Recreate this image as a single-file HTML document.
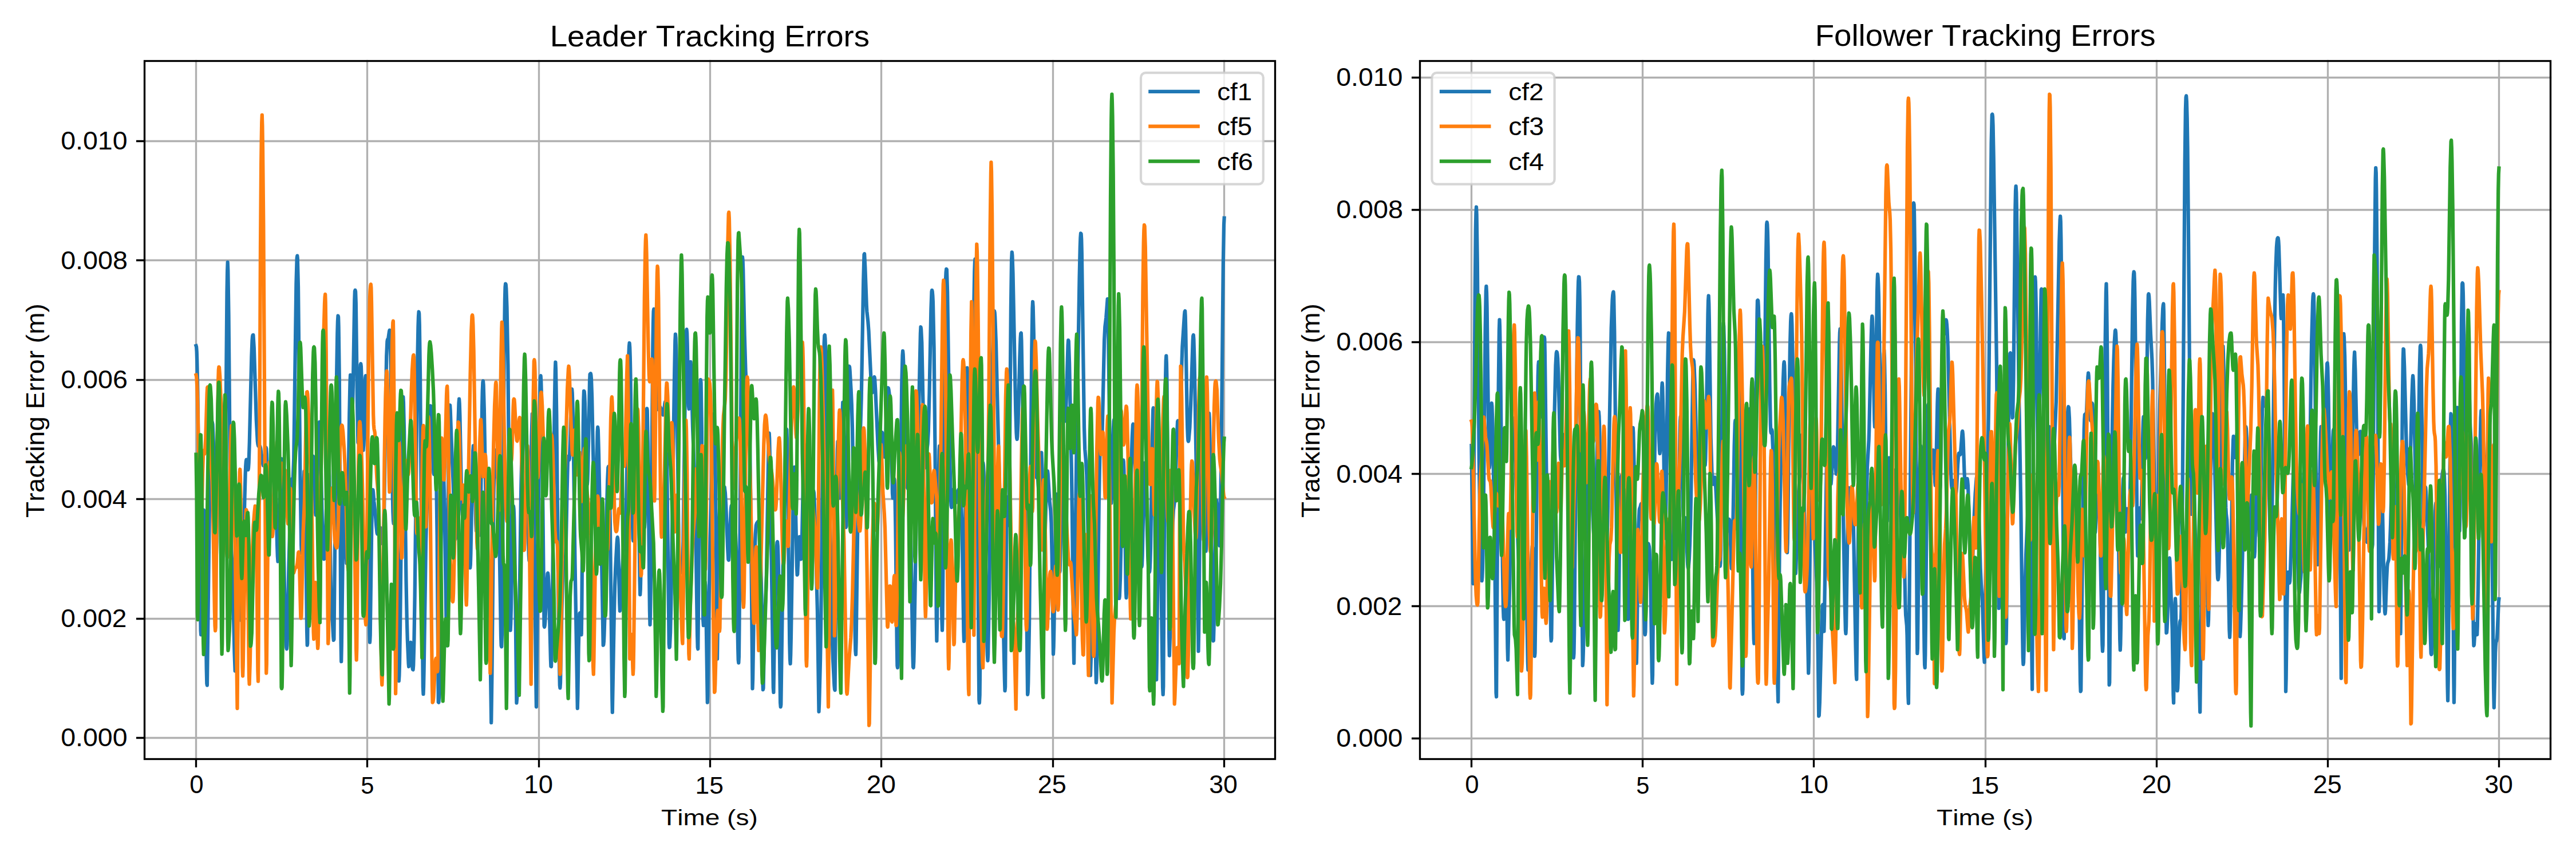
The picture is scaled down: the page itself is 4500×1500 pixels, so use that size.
<!DOCTYPE html>
<html><head><meta charset="utf-8"><title>Tracking Errors</title>
<style>html,body{margin:0;padding:0;background:#fff;width:4500px;height:1500px;overflow:hidden}svg{display:block}text{font-family:"Liberation Sans",sans-serif;fill:#000;font-kerning:none}</style></head><body>
<svg width="4500" height="1500" viewBox="0 0 4500 1500">
<rect width="4500" height="1500" fill="#fff"/>
<defs>
<clipPath id="clipL"><rect x="252.5" y="106.5" width="1975" height="1219"/></clipPath>
<clipPath id="clipR"><rect x="2480.5" y="106.5" width="1975" height="1219"/></clipPath>
</defs>
<path d="M342.5 106.5V1325.5M641.5 106.5V1325.5M941.5 106.5V1325.5M1240.5 106.5V1325.5M1539.5 106.5V1325.5M1839.5 106.5V1325.5M2138.5 106.5V1325.5M252.5 1288.5H2227.5M252.5 1080.5H2227.5M252.5 871.5H2227.5M252.5 663.5H2227.5M252.5 454.5H2227.5M252.5 246.5H2227.5" stroke="#b0b0b0" stroke-width="3.3333" fill="none" stroke-linecap="square"/>
<g clip-path="url(#clipL)" fill="none" stroke-width="6.25" stroke-linejoin="round" stroke-linecap="square">
<path d="M342.5 603.8 343.1 605.7 343.7 613.9 344.2 629.6 345.4 685.1 350.6 1101.2 351.1 1108.3 351.7 1096.6 354.7 916.2 355.3 897.2 355.9 890.5 356.5 896.7 357.7 945.4 360.7 1168.4 361.3 1193.6 361.9 1196.6 365.7 899.5 368.3 786.8 369.6 751.1 370.2 740.9 370.8 737.2 371.5 741.0 372.8 771.1 376.0 932.0 376.6 959.0 377.3 972.9 377.9 968.8 378.5 945.4 381.1 766.5 382.4 702.9 383.0 687.1 383.7 681.0 384.3 682.3 386.9 710.4 388.1 735.3 389.4 789.8 391.3 913.7 392.0 933.5 392.6 919.9 393.3 871.3 396.5 510.3 397.1 474.3 397.7 457.9 398.3 472.4 399.5 550.0 401.9 816.1 403.0 917.2 404.2 962.4 405.4 984.8 406.6 1017.7 409.5 1139.9 410.7 1171.7 411.9 1121.4 414.3 980.6 415.4 944.6 416.0 940.7 416.6 946.2 417.2 959.9 419.6 1051.2 420.8 1081.3 421.4 1083.3 422.0 1081.9 422.6 1074.0 424.4 1016.9 427.4 871.6 428.6 828.2 429.2 814.2 429.8 805.8 430.4 802.6 431.0 803.8 432.8 818.5 433.4 820.3 434.0 817.4 434.6 808.4 435.8 772.5 439.4 623.1 440.5 594.7 441.1 587.3 441.7 585.0 442.4 584.9 443.8 607.2 447.8 733.8 449.8 770.4 450.5 775.8 451.2 778.5 451.8 779.3 453.2 778.7 453.9 778.9 454.5 780.2 455.2 782.9 458.6 807.7 459.9 813.0 460.6 813.0 461.2 810.8 463.9 785.0 464.6 781.3 465.3 783.4 466.0 793.3 466.6 812.0 469.3 917.4 470.0 919.4 470.7 903.4 473.4 791.6 474.0 781.6 474.7 781.8 476.7 810.5 477.4 816.5 478.1 817.6 479.4 814.4 480.1 816.8 480.8 825.8 482.1 865.4 484.1 951.0 484.8 971.3 485.5 980.4 486.1 976.0 486.8 959.4 490.2 821.2 490.8 806.4 491.5 801.0 492.2 805.6 493.5 844.5 496.9 1023.2 498.2 1079.1 499.6 1118.6 500.3 1130.7 500.9 1133.3 501.5 1127.2 502.2 1105.1 504.6 983.2 507.7 872.0 508.9 844.9 509.5 838.3 510.1 836.1 511.3 837.1 511.9 833.6 513.2 801.1 517.4 495.8 518.7 450.4 519.3 446.7 519.8 451.0 521.0 500.9 524.5 838.5 526.2 952.8 526.8 966.1 527.4 966.2 528.0 954.7 530.9 834.1 531.4 823.2 532.0 823.5 532.6 836.2 533.8 898.9 536.1 1102.9 536.7 1126.7 537.2 1123.5 539.5 902.7 540.7 837.8 541.3 828.7 541.8 832.4 543.0 855.8 543.6 862.7 544.2 860.4 546.5 802.2 547.0 796.6 547.6 799.4 548.8 826.8 550.5 883.6 551.1 895.0 551.6 899.4 552.2 896.5 553.4 871.8 556.3 766.3 557.4 740.2 558.0 736.8 558.6 741.2 559.7 772.4 563.2 926.3 564.3 956.8 565.5 973.2 566.0 976.4 566.6 975.8 567.2 971.2 568.4 949.6 572.4 803.0 573.0 790.0 573.5 784.8 574.1 789.3 575.3 831.4 577.6 1004.0 578.7 1066.1 579.3 1078.1 580.5 1083.1 581.0 1088.3 582.2 1111.5 582.8 1117.9 583.4 1116.4 588.1 655.0 589.3 582.4 589.9 561.1 590.5 551.5 591.1 553.4 591.6 570.8 592.8 659.4 595.6 1122.2 596.2 1155.2 596.8 1126.3 599.3 930.3 600.5 869.6 601.1 857.6 601.7 858.3 602.3 870.6 604.8 971.0 605.4 983.6 606.0 981.3 607.2 932.9 610.3 722.7 611.5 666.6 612.1 654.8 612.7 663.0 614.5 716.6 615.1 726.3 615.7 722.5 616.9 671.0 619.3 524.4 619.9 508.6 620.5 506.8 621.1 509.2 621.8 528.9 624.2 711.6 625.4 772.7 626.0 774.1 626.6 757.7 628.5 670.6 629.7 637.1 630.3 635.3 630.9 640.0 631.5 657.9 633.3 753.5 633.9 777.4 634.5 786.2 635.1 777.8 635.7 755.7 637.5 674.3 638.1 660.2 638.7 656.2 639.3 662.2 640.4 697.2 641.6 758.7 645.0 1065.5 645.6 1108.1 646.1 1121.7 646.7 1108.8 649.7 889.2 650.3 867.4 650.9 856.7 651.5 855.3 652.1 860.2 653.3 875.5 655.6 896.5 657.4 919.5 658.6 930.6 659.2 932.4 659.8 932.0 661.6 927.2 664.6 922.3 665.1 922.0 665.7 923.2 666.3 926.6 668.7 949.6 669.3 948.2 669.9 939.1 670.5 920.5 671.1 892.3 674.1 681.8 675.2 621.7 676.4 596.0 677.0 592.8 678.2 591.6 680.0 578.9 680.6 576.6 681.2 578.4 681.8 591.9 682.9 651.6 685.2 832.8 686.4 894.0 687.0 908.6 687.6 914.2 688.1 914.1 689.3 906.4 691.0 890.3 691.6 886.9 692.2 888.0 692.8 896.4 693.4 914.6 694.5 986.5 696.3 1156.5 696.8 1189.0 697.4 1179.9 698.0 1158.8 699.1 1091.3 702.6 774.1 703.8 707.3 704.3 693.2 704.9 702.6 706.1 753.3 709.5 1015.4 710.7 1079.0 711.8 1117.4 713.6 1158.4 714.1 1164.0 714.7 1160.4 716.4 1130.4 717.0 1123.7 717.6 1121.8 718.2 1125.3 718.7 1133.6 720.5 1166.2 721.0 1169.0 721.6 1169.4 722.2 1162.1 723.4 1118.3 724.6 1042.2 729.2 635.9 730.4 570.9 731.0 552.7 731.6 544.5 732.2 547.8 732.8 567.0 734.0 652.2 737.7 1092.2 738.9 1200.1 739.5 1212.0 740.0 1200.0 740.6 1170.9 744.0 947.5 745.1 907.5 747.3 848.5 750.1 741.3 751.2 714.1 751.8 708.7 752.4 708.9 753.5 724.1 756.3 804.2 757.4 825.7 758.0 828.4 758.5 825.3 760.2 798.3 760.8 793.4 761.3 796.5 761.9 810.6 763.6 935.3 765.8 1226.2 766.4 1226.6 767.0 1217.1 769.3 1024.3 771.1 909.7 772.9 841.9 773.5 830.3 774.1 825.0 774.7 826.6 775.3 835.7 776.4 877.6 779.4 1078.9 780.6 1127.5 783.7 796.6 784.3 751.7 784.9 722.5 785.5 708.4 786.1 707.5 786.7 716.7 789.2 786.1 791.7 844.3 794.1 919.7 795.3 941.7 796.0 940.1 796.6 927.8 800.3 741.4 801.5 703.7 802.1 696.7 802.7 705.0 803.4 725.9 805.9 853.3 807.2 890.6 807.8 899.1 808.5 903.5 811.0 911.9 811.6 913.3 812.3 913.0 812.9 910.5 813.5 905.3 815.4 882.0 816.1 877.1 816.7 876.9 817.3 882.8 818.0 895.4 820.5 982.0 821.2 991.6 821.8 986.4 822.4 966.6 825.0 831.2 826.2 787.4 826.9 778.4 827.5 778.7 828.8 805.8 831.3 913.3 832.0 927.1 832.6 926.8 835.1 861.4 835.8 861.2 838.3 934.4 838.9 928.8 839.6 900.0 842.1 711.7 842.7 683.1 843.4 667.8 844.0 665.3 844.6 672.1 845.8 713.3 848.7 875.3 852.9 1049.1 854.0 1080.1 855.2 1096.0 855.8 1109.0 856.4 1131.5 858.2 1261.9 859.4 1178.3 862.4 865.1 863.0 825.6 863.6 799.8 864.2 787.3 864.8 786.1 865.4 793.1 867.2 824.3 867.8 829.4 869.0 833.4 869.6 837.8 870.8 864.5 872.0 922.0 875.0 1109.9 875.6 1127.3 876.2 1129.4 876.9 1107.6 877.5 1044.1 880.6 619.3 881.9 523.4 882.5 501.2 883.1 495.6 883.7 496.7 884.3 503.8 885.5 536.2 887.4 637.4 891.6 1100.6 892.2 1089.2 892.8 1064.1 895.8 904.1 896.4 889.1 897.0 883.9 897.6 889.2 898.2 905.2 899.4 968.3 902.4 1227.4 903.5 1214.8 904.7 1207.3 905.3 1195.8 905.9 1171.3 910.1 860.2 911.3 801.5 912.5 766.7 913.7 748.0 914.9 736.0 916.1 727.7 916.7 726.4 917.3 728.6 917.8 735.5 919.6 788.1 923.2 951.4 923.8 969.7 924.4 978.8 925.0 974.7 925.6 955.5 928.6 760.7 929.8 722.6 930.4 722.6 931.0 735.7 932.2 798.6 935.7 1149.1 936.9 1234.3 942.2 748.8 943.4 678.3 944.0 660.0 944.6 656.2 945.2 665.7 945.8 686.5 947.0 758.9 950.5 1092.7 951.1 1094.9 951.7 1092.1 952.3 1085.1 955.3 1016.6 956.5 1001.5 957.1 1000.7 957.7 1005.3 958.9 1031.6 961.9 1151.1 962.4 1163.6 963.0 1164.0 963.7 1141.3 964.9 1050.1 968.6 715.5 969.8 646.8 970.4 632.5 971.0 645.7 972.3 723.5 975.3 1038.0 976.6 1136.5 977.8 1196.8 978.4 1201.3 979.0 1192.2 981.4 1064.7 983.3 999.0 983.9 988.1 984.5 982.7 985.1 982.2 986.9 992.2 987.5 988.8 988.7 954.1 990.6 856.3 991.8 808.4 992.4 798.3 993.0 796.7 994.2 803.2 994.8 800.8 996.0 769.8 997.8 697.7 998.4 684.0 999.1 679.3 999.7 685.9 1000.3 702.4 1001.5 763.2 1004.5 982.1 1008.8 1237.0 1009.4 1213.9 1010.6 1132.5 1011.9 1081.2 1012.5 1070.9 1013.2 1070.2 1015.7 1108.3 1016.3 1068.1 1018.8 739.2 1019.4 698.6 1020.0 682.8 1020.6 683.4 1021.2 690.0 1021.8 703.1 1024.7 823.9 1025.3 840.0 1025.9 845.7 1026.5 839.0 1027.1 820.2 1030.0 666.8 1030.6 653.4 1031.8 652.2 1032.4 655.0 1033.0 662.2 1034.1 693.4 1037.7 867.3 1038.9 903.3 1039.5 907.8 1040.1 901.8 1040.7 885.4 1043.6 754.0 1044.2 745.9 1044.8 750.3 1046.0 794.0 1048.4 919.5 1050.7 970.8 1051.3 993.2 1053.7 1126.7 1054.3 1125.8 1054.9 1120.0 1055.4 1109.3 1056.6 1072.7 1060.0 886.7 1061.2 839.7 1062.3 816.5 1062.9 814.7 1063.5 819.5 1064.6 849.9 1065.8 909.7 1069.3 1219.6 1069.8 1243.9 1072.8 1075.6 1074.0 1023.9 1075.2 992.8 1077.5 949.9 1078.1 941.7 1078.7 938.2 1079.3 941.5 1079.9 952.9 1082.3 1053.7 1082.9 1066.8 1083.5 1064.3 1084.1 1054.2 1090.1 937.5 1090.7 930.9 1092.5 920.6 1093.1 913.1 1094.2 875.1 1094.8 842.6 1097.8 644.0 1098.4 619.6 1099.0 604.6 1099.6 599.0 1100.2 606.4 1100.8 624.6 1101.4 654.0 1104.4 888.3 1105.6 940.4 1106.2 944.4 1106.8 937.3 1108.6 899.6 1111.0 868.1 1113.4 810.0 1114.0 807.2 1114.6 816.6 1115.2 839.6 1117.6 1015.0 1118.2 1038.4 1118.8 1028.7 1119.4 1000.8 1121.2 877.0 1122.4 828.0 1123.0 824.7 1123.6 835.7 1125.4 910.0 1126.0 920.9 1126.6 911.4 1127.2 882.1 1129.6 726.9 1130.2 713.4 1130.7 716.8 1131.9 775.2 1134.3 1017.2 1134.9 1066.9 1135.5 1091.0 1136.1 1073.6 1136.7 1024.8 1140.4 602.6 1141.0 564.7 1141.6 543.7 1142.2 539.6 1142.8 543.5 1143.5 555.3 1146.5 671.5 1147.8 704.0 1148.4 711.9 1149.0 715.1 1149.6 715.1 1151.5 710.5 1152.1 709.9 1152.7 710.1 1153.3 710.7 1155.2 714.6 1157.6 723.5 1158.2 724.6 1158.9 724.1 1159.5 721.4 1161.3 705.0 1161.9 702.0 1162.5 704.1 1163.2 713.9 1163.8 733.1 1165.0 802.4 1168.7 1124.7 1169.3 1130.6 1169.9 1129.9 1171.1 1104.4 1172.3 1051.1 1178.2 651.8 1179.3 595.5 1179.9 583.6 1180.5 589.8 1181.8 637.4 1186.0 965.2 1186.7 987.0 1187.3 995.0 1187.9 993.3 1189.1 985.2 1189.7 986.3 1190.9 997.4 1191.5 999.9 1192.2 993.6 1192.8 975.1 1193.4 944.2 1197.7 624.1 1198.9 579.2 1199.5 575.2 1200.1 581.1 1200.7 600.1 1203.0 709.6 1203.6 714.2 1204.1 703.9 1205.9 640.6 1206.5 631.8 1207.1 639.0 1207.6 654.5 1210.0 746.0 1212.9 821.5 1214.0 861.3 1215.2 918.5 1218.1 1108.8 1218.7 1130.4 1219.3 1133.3 1219.8 1083.2 1222.2 747.5 1223.4 669.0 1223.9 663.2 1224.6 668.2 1225.8 746.0 1228.2 1082.7 1228.9 1092.2 1229.4 1081.5 1231.2 1021.8 1231.7 1016.0 1232.3 1022.4 1233.5 1070.9 1235.8 1226.6 1236.4 1214.7 1238.7 1042.2 1240.5 940.5 1245.3 757.6 1246.5 728.1 1247.1 723.0 1247.7 726.8 1248.3 741.0 1249.5 804.0 1252.5 1112.2 1253.0 1150.6 1256.1 927.6 1257.3 879.4 1257.9 869.6 1258.5 867.3 1259.1 870.0 1260.9 886.0 1261.5 887.3 1262.1 884.8 1262.7 878.8 1264.5 855.1 1265.1 850.9 1265.7 850.5 1266.9 860.8 1268.1 881.7 1271.1 956.3 1272.3 977.0 1272.9 978.1 1273.5 972.2 1276.5 896.3 1277.1 887.1 1277.7 882.9 1278.3 883.5 1278.9 888.0 1281.3 915.7 1281.9 918.5 1282.5 919.4 1283.1 919.4 1283.7 920.1 1284.3 923.2 1284.9 930.3 1286.1 961.9 1286.7 987.8 1289.1 1129.6 1289.7 1152.4 1290.3 1157.5 1290.9 1146.3 1291.5 1090.6 1295.2 562.2 1296.4 465.6 1297.0 448.8 1297.6 454.5 1298.2 471.2 1300.7 585.7 1302.5 646.8 1305.5 704.2 1306.7 720.1 1308.5 736.7 1309.7 765.2 1311.5 879.8 1314.5 1202.4 1315.1 1185.3 1318.0 998.1 1319.1 947.7 1319.7 932.5 1320.8 917.5 1322.0 913.6 1324.3 910.6 1324.9 910.3 1325.5 910.7 1326.0 912.4 1326.6 915.7 1327.8 931.6 1328.3 946.1 1330.1 1027.0 1332.4 1191.5 1332.9 1204.3 1333.5 1201.8 1335.9 1077.7 1338.3 1024.5 1338.9 1005.1 1342.5 780.1 1343.1 761.1 1343.7 756.3 1344.2 766.2 1345.4 823.4 1350.8 1201.3 1351.4 1208.9 1353.2 1085.0 1355.1 1001.9 1356.9 955.0 1357.5 947.4 1358.1 946.1 1358.8 953.1 1359.4 970.0 1360.0 997.5 1363.1 1227.1 1363.7 1234.3 1364.3 1230.2 1368.1 963.3 1372.4 783.2 1373.7 749.1 1374.3 750.1 1374.9 766.1 1375.6 797.2 1379.3 1123.3 1380.0 1151.1 1380.6 1159.0 1381.2 1143.9 1381.9 1112.3 1385.9 857.7 1387.2 817.7 1387.9 815.6 1388.6 826.3 1391.9 988.4 1392.6 1003.8 1393.2 1002.6 1395.9 940.3 1396.6 937.4 1397.2 943.1 1399.2 976.5 1399.9 974.1 1401.2 928.6 1403.9 798.1 1404.5 782.6 1405.2 776.7 1405.9 779.7 1406.5 789.9 1409.9 879.5 1411.2 900.5 1411.9 903.4 1412.5 902.0 1414.5 888.8 1415.2 886.9 1415.9 886.7 1416.5 887.2 1417.2 887.0 1417.9 884.6 1420.5 858.9 1421.2 857.1 1421.9 860.9 1422.5 870.9 1424.5 932.1 1427.9 1066.4 1430.5 1242.7 1431.1 1228.4 1433.0 1153.8 1434.2 1082.2 1438.5 662.0 1439.1 623.7 1439.7 598.5 1440.3 586.1 1440.9 585.0 1441.5 591.8 1442.1 611.3 1445.0 825.2 1446.2 883.9 1446.8 893.7 1447.4 893.7 1448.6 887.5 1449.1 891.2 1449.7 903.3 1450.9 953.4 1453.9 1119.0 1455.0 1151.2 1457.4 1197.1 1458.0 1203.8 1458.6 1205.1 1461.7 863.1 1462.9 784.8 1463.5 771.1 1464.2 773.2 1466.7 858.3 1467.3 869.5 1467.9 866.6 1468.5 849.8 1471.0 731.9 1472.3 702.5 1472.9 702.5 1473.5 712.6 1474.8 760.3 1477.3 903.2 1477.9 920.8 1478.5 918.2 1479.8 855.3 1482.3 676.7 1482.9 651.4 1483.5 639.5 1484.1 640.8 1484.7 647.4 1486.6 679.8 1487.8 706.6 1489.0 747.4 1490.8 858.9 1493.8 1111.8 1494.4 1136.8 1495.0 1142.9 1495.6 1120.9 1498.0 938.2 1499.9 838.3 1501.1 796.2 1503.5 736.8 1504.7 696.2 1508.3 489.1 1509.5 444.6 1510.1 443.2 1511.3 466.5 1513.8 534.3 1514.4 544.0 1516.3 561.5 1517.5 577.4 1521.9 670.7 1523.1 684.4 1523.8 685.6 1524.4 683.1 1526.9 660.3 1527.5 658.3 1528.1 661.6 1529.3 680.8 1533.6 776.5 1535.4 804.7 1536.0 807.6 1536.6 806.1 1537.9 791.7 1539.7 761.6 1540.3 756.2 1540.9 755.1 1541.5 758.6 1542.1 765.7 1544.0 793.1 1544.6 797.9 1545.2 798.0 1546.4 782.7 1549.4 699.9 1550.6 680.1 1551.3 677.2 1551.9 677.9 1552.5 680.2 1554.3 694.1 1555.5 716.3 1556.1 734.6 1559.0 861.8 1559.6 869.6 1560.2 866.1 1562.0 835.8 1562.6 838.4 1563.2 853.2 1564.4 920.4 1566.8 1127.9 1567.4 1162.4 1568.0 1165.9 1568.6 1162.0 1569.2 1142.0 1570.5 1068.3 1575.3 669.0 1576.5 621.0 1577.1 612.9 1577.7 619.1 1578.3 634.3 1581.3 767.0 1583.1 826.0 1583.7 837.6 1584.9 850.6 1585.5 852.8 1586.1 853.2 1586.7 852.7 1587.3 852.7 1587.9 854.7 1588.5 859.8 1589.7 884.2 1591.5 962.1 1594.5 1145.0 1595.1 1164.9 1595.7 1165.9 1596.3 1155.2 1596.9 1129.1 1601.2 863.6 1604.2 753.0 1607.9 582.4 1608.5 571.0 1609.1 574.6 1610.3 598.1 1614.3 794.8 1614.9 809.9 1615.4 816.8 1616.0 816.7 1618.3 793.4 1620.6 775.1 1621.8 752.8 1623.5 686.3 1626.4 540.1 1627.5 509.5 1628.1 506.8 1628.7 509.1 1629.3 515.7 1629.9 527.5 1631.6 606.7 1633.4 775.3 1635.8 1084.0 1636.4 1119.1 1637.0 1087.7 1639.4 853.2 1640.6 786.2 1641.2 778.8 1641.8 790.0 1642.4 818.8 1644.8 1038.0 1645.4 1083.6 1646.0 1100.6 1646.6 1075.0 1647.2 1010.2 1650.2 603.9 1651.4 513.3 1652.0 488.7 1652.6 475.0 1653.2 469.8 1653.9 470.7 1655.1 509.7 1659.6 815.2 1660.9 870.8 1661.6 883.0 1662.2 886.0 1662.9 882.7 1665.4 857.2 1666.1 854.4 1666.7 853.7 1667.3 855.0 1668.0 858.2 1669.9 874.2 1670.6 877.3 1671.2 877.2 1671.8 873.8 1673.8 857.1 1674.4 855.0 1675.1 855.5 1677.6 866.9 1678.9 876.8 1680.2 907.4 1680.8 935.4 1683.4 1103.3 1684.0 1119.8 1684.7 1114.4 1687.7 732.3 1688.9 651.8 1689.5 642.3 1690.1 651.1 1690.7 671.3 1694.2 908.1 1695.4 953.6 1695.9 952.9 1696.5 935.4 1697.7 860.5 1701.2 539.8 1702.3 474.4 1702.9 458.1 1703.5 452.3 1704.1 463.4 1704.7 493.1 1706.0 605.2 1709.7 1162.0 1710.3 1221.9 1710.9 1227.4 1711.6 1213.5 1714.7 899.1 1716.0 830.7 1716.6 814.1 1717.3 808.3 1717.9 812.5 1718.5 825.2 1719.8 872.5 1724.3 1124.3 1724.9 1144.4 1725.5 1153.6 1726.1 1142.6 1727.9 1043.0 1733.4 652.2 1735.2 569.1 1736.4 543.9 1737.0 543.1 1737.6 545.3 1738.2 553.1 1740.0 600.5 1745.4 825.4 1753.1 1104.5 1754.9 1187.4 1755.5 1206.2 1756.1 1199.5 1757.3 1024.5 1758.6 904.8 1759.2 876.0 1759.8 867.8 1760.4 876.8 1761.6 914.5 1762.2 917.4 1762.9 892.7 1765.9 538.1 1767.1 453.0 1767.8 440.4 1768.4 446.1 1769.5 476.9 1774.3 717.6 1775.5 755.8 1776.1 764.8 1776.7 767.1 1777.3 762.7 1778.5 737.1 1781.4 623.7 1782.6 590.2 1783.2 582.2 1783.8 581.5 1784.4 594.5 1787.6 769.7 1788.2 794.6 1790.7 846.8 1791.3 874.9 1795.1 1212.8 1795.7 1208.9 1796.3 1191.6 1798.1 1088.9 1802.3 613.0 1803.5 538.6 1804.1 527.0 1804.7 535.7 1805.8 581.8 1808.8 771.8 1810.0 821.3 1810.6 831.5 1811.1 834.2 1812.3 832.4 1812.9 834.9 1814.7 860.5 1815.3 865.5 1815.9 862.9 1818.2 799.7 1818.8 790.4 1819.4 790.3 1820.6 819.5 1822.9 933.7 1823.5 953.2 1824.1 962.3 1824.7 960.0 1825.3 947.6 1828.2 841.7 1829.4 823.3 1830.0 822.5 1830.6 826.6 1833.5 875.2 1835.3 891.7 1836.5 913.4 1837.6 968.0 1840.0 1142.1 1840.6 1129.7 1841.2 1101.1 1844.3 909.2 1845.5 869.3 1846.1 862.8 1846.7 865.4 1847.3 876.3 1850.4 988.5 1851.0 999.2 1851.6 996.7 1852.8 950.9 1855.2 795.9 1856.5 742.6 1857.1 728.2 1857.7 721.7 1858.3 721.6 1860.1 735.3 1860.7 735.3 1861.4 729.9 1862.6 701.9 1865.6 602.4 1866.2 594.1 1866.8 595.8 1868.1 634.7 1871.8 817.6 1873.0 901.4 1875.5 1129.7 1876.1 1158.2 1880.3 802.1 1885.6 484.1 1886.8 431.3 1887.4 415.3 1888.0 407.5 1888.6 408.3 1889.2 417.4 1889.8 441.8 1894.0 746.3 1895.2 784.2 1897.0 806.1 1898.3 829.0 1899.5 871.3 1901.9 994.5 1904.9 1179.4 1906.1 1142.4 1909.0 976.4 1910.2 940.3 1910.8 939.1 1911.4 951.0 1912.0 976.5 1914.3 1166.8 1914.9 1192.0 1915.5 1184.0 1916.8 1128.3 1919.8 875.8 1921.1 804.6 1921.7 784.5 1922.3 774.5 1922.9 772.5 1924.2 776.6 1924.8 772.9 1925.4 760.2 1929.1 594.0 1930.3 570.8 1932.2 555.0 1934.7 522.1 1935.3 534.3 1935.9 563.0 1938.9 793.7 1940.1 856.9 1940.7 873.8 1941.3 878.7 1941.9 870.6 1945.0 747.6 1945.6 735.2 1946.2 732.7 1946.8 739.9 1947.4 755.8 1950.4 893.2 1952.2 961.3 1954.0 1021.6 1954.6 1037.3 1955.2 1044.9 1955.8 1041.0 1957.0 1010.1 1960.5 848.0 1961.7 810.1 1962.3 803.3 1962.8 806.1 1963.4 819.4 1964.6 876.6 1966.4 1002.5 1966.9 1032.4 1967.5 1043.8 1968.7 1022.1 1971.7 917.9 1974.7 865.2 1975.3 849.7 1977.7 764.9 1978.9 742.0 1979.5 740.6 1980.7 756.2 1983.1 817.9 1984.9 848.4 1985.5 852.7 1986.1 854.8 1986.7 855.3 1988.5 853.0 1989.1 853.1 1989.7 855.6 1990.3 862.0 1991.4 890.2 1993.8 980.4 1994.4 990.0 1995.0 986.5 1995.6 970.2 1998.6 831.6 1999.2 816.0 1999.8 808.4 2000.4 808.8 2001.6 832.1 2005.2 971.5 2006.4 992.9 2007.0 997.5 2007.6 999.3 2008.2 998.0 2008.8 992.1 2009.4 979.0 2010.0 956.7 2013.0 762.2 2014.2 715.4 2014.8 712.2 2015.4 724.9 2016.6 798.3 2019.6 1146.6 2020.2 1187.0 2020.8 1151.5 2023.2 916.6 2024.4 849.7 2025.0 839.3 2025.6 844.6 2026.8 895.5 2030.5 1165.3 2031.1 1200.6 2031.7 1212.8 2032.3 1198.3 2034.8 779.2 2036.1 658.7 2036.7 630.0 2037.3 621.3 2037.9 634.7 2038.6 670.8 2041.6 1046.1 2042.2 1112.8 2042.8 1144.8 2044.0 1109.6 2047.0 970.9 2048.8 911.9 2049.9 890.7 2052.3 873.2 2052.9 863.6 2055.9 760.6 2057.1 736.1 2057.7 734.8 2058.3 740.5 2060.1 772.1 2060.6 774.7 2061.2 767.9 2062.4 726.6 2064.2 642.8 2065.4 605.7 2069.0 550.2 2069.6 544.3 2070.2 543.1 2070.7 552.3 2071.3 576.8 2073.7 723.2 2074.3 747.4 2074.9 762.4 2075.4 769.4 2076.0 770.6 2076.6 767.9 2078.4 746.7 2080.1 706.3 2083.7 595.1 2084.2 586.8 2084.8 585.0 2085.4 592.6 2086.6 635.3 2090.0 830.5 2093.5 1137.1 2094.1 1103.9 2096.5 871.8 2097.7 795.0 2098.3 773.6 2098.9 762.5 2099.5 759.7 2100.1 762.9 2101.9 792.5 2103.1 829.3 2105.5 939.3 2106.1 957.5 2106.7 962.4 2107.3 951.2 2107.9 925.2 2110.9 742.3 2111.5 725.6 2112.1 721.6 2112.7 730.8 2113.9 785.4 2116.9 1021.9 2118.1 1093.1 2118.7 1112.0 2119.3 1119.1 2119.9 1118.7 2120.5 1097.9 2122.9 937.9 2124.1 887.2 2124.7 876.0 2125.3 873.5 2125.9 878.3 2129.5 949.4 2130.1 952.8 2130.7 948.8 2131.3 934.8 2133.2 820.7 2136.8 461.4 2138.0 392.4 2138.6 380.8" stroke="#1f77b4"/>
<path d="M342.5 654.9 343.1 657.2 343.7 663.7 344.3 675.3 345.5 715.5 349.1 924.0 350.3 962.3 350.9 961.2 351.5 946.1 353.9 827.2 355.1 792.0 355.7 786.6 356.2 787.1 357.4 792.7 358.0 790.7 359.2 767.4 361.6 686.9 362.2 676.7 362.8 675.8 363.4 681.6 367.0 794.2 367.7 805.0 369.5 820.4 370.7 842.2 371.9 889.7 374.9 1068.8 375.5 1092.8 376.1 1101.4 376.7 1095.9 377.2 1056.3 380.1 742.1 381.2 664.7 381.8 645.9 382.4 640.9 383.0 641.6 384.2 657.2 390.1 811.8 394.3 936.8 395.5 959.9 396.7 972.0 397.3 973.3 397.8 970.7 399.0 950.3 400.2 907.0 403.2 767.3 403.8 751.4 404.4 743.4 405.0 743.9 405.6 752.5 406.8 788.7 410.9 966.9 414.5 1237.0 417.5 887.8 418.7 824.3 419.3 819.5 419.9 833.1 420.5 864.2 423.5 1164.7 424.1 1180.5 424.7 1162.6 428.4 942.5 429.6 899.1 430.2 890.1 430.8 892.3 431.4 906.8 432.0 934.2 435.0 1183.0 435.6 1194.7 436.8 1157.1 439.2 1032.4 441.0 957.2 442.7 916.7 444.5 893.9 445.7 883.6 446.3 885.4 446.9 896.0 447.5 917.8 448.6 998.7 450.4 1171.9 451.0 1189.7 451.6 1121.1 455.0 433.1 456.1 289.2 456.7 243.4 457.2 214.5 457.8 200.9 458.4 219.9 459.0 259.5 460.3 391.5 464.6 1116.3 465.2 1175.5 465.8 1159.3 468.7 868.2 469.3 834.8 469.9 814.7 470.5 807.3 471.0 811.1 471.6 823.7 474.6 924.9 475.1 934.4 475.7 936.9 476.3 933.2 476.9 924.8 479.8 867.3 482.7 792.2 483.9 771.5 484.5 770.8 485.1 777.5 487.4 843.1 488.0 853.9 488.6 857.2 489.1 853.2 491.5 813.0 492.1 809.0 492.6 809.2 493.2 812.6 495.0 826.4 495.6 827.5 496.1 826.4 497.3 821.5 497.9 820.8 498.5 823.1 499.6 839.4 502.0 900.3 502.6 910.6 503.1 914.7 503.7 912.1 504.3 903.4 506.1 864.1 506.6 855.6 507.2 853.0 507.8 857.7 508.4 869.6 510.7 960.7 511.9 992.8 512.5 999.0 513.1 1000.4 515.4 992.9 516.6 991.1 517.7 990.6 518.3 989.8 519.5 983.4 521.2 964.9 521.8 964.1 522.4 970.2 523.0 984.4 525.3 1077.6 525.9 1079.5 526.5 1075.9 527.1 1051.4 529.5 931.1 531.9 877.5 534.9 716.9 536.1 684.4 536.7 684.2 537.3 687.8 537.9 697.5 544.0 857.3 545.2 917.9 547.6 1103.5 548.2 1116.0 550.1 1039.0 550.7 1022.4 551.3 1017.2 552.0 1023.4 552.6 1040.0 554.5 1119.2 555.1 1132.1 555.7 1126.3 556.3 1092.6 558.1 948.9 559.3 877.5 562.2 768.9 565.8 571.8 567.0 529.7 567.6 518.5 568.2 513.8 568.7 527.7 569.8 618.6 572.6 1070.3 573.2 1123.7 573.8 1114.2 576.4 940.0 577.1 907.8 578.4 866.1 579.0 855.9 579.7 852.3 580.3 855.0 581.6 876.0 583.6 923.2 584.9 943.8 585.5 948.8 586.8 953.9 588.1 956.7 588.8 955.1 589.5 948.6 590.1 935.3 590.8 914.9 594.0 785.3 595.3 757.2 596.0 749.2 596.6 744.4 597.3 742.6 597.9 743.8 599.2 754.4 601.2 784.1 602.5 810.0 604.4 869.3 607.1 974.7 607.7 990.5 608.4 995.6 609.0 988.4 609.7 969.9 613.6 790.3 614.9 762.0 615.5 760.1 616.2 766.9 616.8 782.6 618.1 839.3 622.1 1133.5 622.7 1152.5 623.3 1131.7 626.2 806.8 626.8 770.8 627.4 748.5 628.0 737.9 628.6 736.5 629.2 741.7 631.6 792.0 633.3 854.5 637.5 1051.8 638.6 1086.0 639.2 1091.0 639.8 1082.8 642.9 725.2 644.1 618.0 645.9 523.8 646.5 508.3 647.2 499.4 647.8 496.3 648.4 502.6 649.0 526.8 652.2 724.3 652.8 741.2 653.4 748.6 654.7 754.7 655.3 762.1 657.8 825.0 658.5 837.0 660.3 857.4 661.6 885.4 662.9 941.8 666.0 1152.2 666.6 1182.7 667.3 1195.9 667.9 1181.3 671.5 802.6 672.7 726.7 673.9 678.0 675.1 652.5 675.7 647.8 676.3 653.0 677.5 696.7 679.8 841.5 680.4 859.1 681.0 858.1 682.2 803.0 685.1 597.9 686.3 563.4 686.9 560.5 687.4 588.7 688.5 717.8 691.1 1211.2 691.7 1177.0 694.8 862.3 696.0 789.9 696.6 774.1 697.2 772.8 697.9 785.4 700.9 957.2 701.6 974.5 702.2 973.8 705.2 852.9 706.5 821.6 707.7 807.1 708.3 804.5 708.9 804.3 710.2 809.5 712.6 828.0 713.3 828.6 713.9 825.0 715.1 803.0 718.8 679.3 720.0 647.2 721.3 626.5 721.9 621.2 722.5 619.9 723.1 625.3 723.7 648.0 727.4 912.8 728.0 929.1 728.6 931.7 730.5 907.4 731.1 904.3 731.7 908.1 734.1 968.4 734.8 971.4 735.4 957.9 736.0 927.9 737.8 799.1 739.1 747.0 739.7 743.1 740.3 755.2 742.7 894.9 743.3 917.7 744.0 919.8 744.6 900.7 747.0 756.6 747.6 736.0 748.3 727.7 748.9 732.0 750.1 774.5 751.3 852.3 755.0 1198.7 755.6 1226.6 756.2 1226.2 756.8 1223.3 757.4 1217.3 759.8 1169.4 761.0 1151.7 761.7 1149.7 762.3 1152.7 763.5 1168.7 764.1 1172.8 764.7 1168.2 768.8 864.3 770.5 778.3 771.1 767.0 771.7 764.9 772.3 770.9 774.7 829.7 775.3 837.8 775.9 837.9 777.0 812.9 780.0 690.9 780.6 677.9 781.2 674.4 781.7 685.4 782.9 743.6 785.8 953.4 786.3 974.1 786.9 985.1 788.1 996.0 788.6 1004.9 790.4 1049.5 791.0 1050.7 791.5 1047.5 792.1 1035.9 797.5 811.1 799.3 754.9 800.5 737.1 801.1 738.0 802.3 762.2 804.1 833.5 805.2 866.8 805.8 871.0 806.4 867.7 808.2 847.1 808.8 847.1 809.4 853.3 810.0 865.8 811.2 907.6 813.6 1024.1 814.2 1046.1 814.8 1056.4 815.4 1039.8 818.4 828.3 821.5 655.6 823.3 577.4 824.5 552.1 825.2 550.1 825.8 555.0 826.4 567.6 827.6 613.1 832.0 890.1 833.2 947.3 833.9 958.0 834.5 954.3 835.1 937.2 838.2 770.8 839.5 734.3 840.1 732.6 840.7 741.9 842.6 805.6 843.2 823.3 843.8 832.3 844.4 832.1 846.9 796.3 847.5 793.7 848.2 796.4 849.4 816.2 851.3 878.7 856.3 1175.5 856.9 1161.5 857.4 1122.4 861.0 838.4 862.2 776.2 864.0 709.4 865.8 671.1 866.4 667.4 866.9 672.2 868.1 728.0 869.9 854.3 870.4 881.6 871.0 891.5 871.6 882.4 872.2 856.6 875.1 634.2 876.3 574.7 876.8 562.6 877.4 571.7 878.6 619.9 880.9 762.7 882.7 847.6 883.8 884.2 885.0 905.4 885.6 910.2 886.1 910.9 886.7 907.1 887.3 898.8 890.8 811.0 891.4 805.5 892.0 804.3 892.6 805.4 893.1 805.7 893.7 802.0 894.3 791.9 896.6 710.8 897.2 698.7 897.8 696.7 898.4 697.6 899.0 704.3 901.5 754.5 902.8 769.2 903.4 770.2 904.0 767.2 907.1 731.7 907.8 729.1 908.4 730.3 909.0 735.8 909.6 746.1 910.9 781.7 914.0 925.9 915.2 961.0 915.9 960.4 916.5 946.4 919.6 803.6 920.2 786.5 920.8 778.1 921.5 778.6 922.7 806.3 924.0 867.9 927.7 1194.7 931.5 698.3 932.8 630.5 933.4 628.3 934.0 633.0 934.6 647.8 937.6 790.7 938.8 828.6 939.4 834.5 940.0 831.0 940.6 819.3 944.2 698.3 944.8 688.6 945.4 685.1 946.0 687.6 947.2 708.7 950.8 820.1 952.0 842.2 952.6 845.2 953.2 842.4 953.8 834.7 957.4 757.2 958.6 743.3 959.2 742.0 959.8 744.1 961.6 757.3 962.2 759.1 963.4 759.5 964.0 761.5 964.6 767.2 965.8 794.4 969.4 926.2 970.6 943.9 971.2 946.2 971.8 945.9 972.4 945.0 973.0 946.0 973.6 951.3 974.2 963.3 975.4 1011.9 977.8 1162.4 978.4 1177.4 979.0 1173.3 979.6 1141.7 982.0 964.2 983.8 876.3 984.4 860.4 986.8 826.1 987.4 812.1 991.1 678.9 992.9 644.0 993.5 639.5 994.1 644.0 994.8 656.6 998.1 756.6 999.4 786.7 1000.0 794.0 1000.7 794.5 1001.3 788.6 1003.3 756.3 1004.0 751.0 1004.6 752.1 1005.3 759.9 1007.9 821.9 1008.6 829.2 1009.2 828.7 1011.2 798.5 1011.9 791.0 1012.5 789.9 1013.2 796.4 1013.8 810.0 1015.8 866.3 1016.4 875.6 1017.1 874.0 1017.8 861.4 1019.7 799.5 1020.4 786.9 1021.0 782.9 1021.7 788.0 1022.4 799.9 1023.7 831.9 1025.0 855.3 1027.6 876.8 1030.9 909.9 1032.2 934.3 1033.5 988.5 1036.1 1163.5 1036.8 1177.4 1037.4 1152.8 1040.5 948.7 1041.7 899.4 1043.0 872.9 1043.6 867.3 1044.2 866.4 1044.8 870.1 1047.9 928.1 1048.5 934.7 1049.1 936.3 1049.8 933.8 1051.0 924.7 1051.6 922.3 1052.2 923.3 1053.5 935.5 1055.3 961.8 1055.9 965.9 1056.5 966.1 1058.4 955.9 1059.0 954.5 1059.6 955.5 1060.9 960.4 1061.5 959.9 1062.1 953.8 1062.7 940.4 1063.3 919.1 1067.0 730.4 1068.3 696.6 1068.9 693.2 1069.5 702.1 1070.1 720.4 1073.5 896.5 1074.1 911.2 1075.3 924.7 1075.8 927.1 1076.4 928.2 1077.0 928.0 1077.6 925.9 1078.7 914.6 1080.5 891.6 1081.1 888.3 1081.6 888.6 1082.8 894.7 1083.4 895.7 1084.0 891.8 1087.4 803.9 1088.0 799.3 1088.6 800.1 1090.3 814.1 1090.9 813.4 1091.5 806.1 1092.7 769.3 1095.0 654.1 1096.1 621.3 1097.3 691.1 1097.9 759.6 1100.2 1150.6 1100.8 1150.4 1102.5 1113.8 1103.1 1107.9 1103.6 1111.5 1104.2 1125.0 1105.4 1166.6 1105.9 1177.4 1106.5 1166.6 1107.1 1128.7 1110.8 809.0 1112.0 749.0 1113.2 718.7 1113.8 714.2 1114.4 717.1 1115.6 748.3 1119.2 986.2 1119.8 1005.5 1120.4 1002.8 1121.0 978.5 1122.2 884.1 1125.8 520.3 1127.1 443.0 1127.7 420.8 1128.3 410.4 1128.9 421.1 1129.5 442.7 1132.6 611.3 1133.8 654.1 1134.4 664.0 1135.0 666.6 1135.7 663.0 1137.5 634.6 1138.1 628.0 1138.7 626.9 1139.3 628.0 1139.9 645.4 1142.2 829.9 1142.8 866.3 1143.3 874.6 1143.9 849.6 1144.5 798.0 1146.8 545.8 1147.9 477.4 1148.5 464.9 1149.1 468.8 1150.3 519.8 1153.9 863.8 1155.1 930.4 1155.7 937.8 1156.2 932.4 1159.8 860.3 1161.0 815.3 1163.4 695.8 1164.0 677.4 1164.6 668.8 1165.2 669.4 1166.4 691.5 1168.2 756.0 1169.4 786.7 1170.0 790.6 1170.6 786.5 1173.0 741.2 1173.6 738.1 1174.2 743.0 1175.4 778.9 1177.3 875.8 1178.5 923.2 1179.1 928.7 1179.7 921.9 1181.5 875.5 1182.1 866.4 1182.7 864.5 1183.3 870.0 1184.5 898.8 1186.9 979.8 1191.2 1102.1 1191.8 1117.9 1192.4 1123.7 1193.6 1051.0 1196.6 781.7 1197.8 735.1 1198.4 733.9 1199.0 748.6 1200.3 824.4 1202.7 1090.6 1203.3 1141.3 1203.9 1150.6 1206.2 1047.0 1208.0 992.3 1210.3 940.1 1213.2 903.1 1215.5 838.1 1216.7 818.6 1217.2 819.5 1217.8 828.2 1220.1 908.1 1220.7 924.3 1221.3 931.9 1221.9 928.9 1222.5 915.5 1225.4 798.6 1226.5 778.5 1227.1 778.6 1228.3 798.9 1228.9 819.3 1231.8 984.1 1232.3 994.1 1232.9 976.6 1233.5 933.4 1235.2 752.5 1236.4 674.5 1237.0 661.8 1238.7 664.7 1239.9 669.4 1241.1 686.6 1241.6 704.3 1242.8 764.8 1246.9 1146.2 1248.1 1208.9 1248.7 1207.7 1249.3 1193.6 1251.8 1098.7 1253.1 1070.1 1253.7 1065.9 1254.4 1068.5 1256.3 1099.1 1256.9 1102.5 1257.5 1096.7 1258.6 1029.1 1261.0 831.7 1262.2 767.9 1262.8 748.1 1263.9 725.5 1266.3 704.6 1266.9 696.8 1268.0 663.3 1269.2 596.5 1271.5 421.4 1272.7 373.2 1273.3 370.6 1273.9 381.3 1275.1 440.7 1278.8 769.8 1280.0 837.2 1280.6 851.0 1281.2 852.9 1281.8 846.0 1284.2 795.3 1286.0 770.6 1290.3 731.8 1290.9 730.1 1291.5 732.2 1292.1 739.2 1293.9 794.4 1297.5 1021.1 1298.2 1049.6 1298.8 1060.3 1299.4 1053.1 1300.0 1027.4 1303.6 713.4 1304.8 663.5 1305.4 658.3 1306.0 662.7 1306.6 673.9 1307.7 711.7 1315.3 1046.3 1316.4 1081.3 1317.0 1088.1 1317.6 1088.3 1318.2 1070.5 1319.9 975.6 1320.5 958.4 1321.1 954.8 1321.7 964.7 1322.3 986.6 1324.1 1090.7 1325.3 1136.0 1325.9 1118.7 1334.3 775.1 1335.6 741.4 1336.9 726.3 1337.5 725.1 1338.1 727.3 1338.8 732.2 1343.9 802.1 1345.2 812.0 1347.2 819.5 1348.4 826.8 1349.7 839.3 1353.0 881.6 1354.2 890.3 1354.9 889.6 1355.5 884.6 1356.2 874.7 1359.4 785.7 1360.7 765.2 1361.3 764.7 1362.0 771.4 1363.3 804.9 1367.1 961.8 1367.8 976.9 1368.4 984.7 1369.1 984.9 1369.7 977.7 1372.3 919.6 1372.9 911.5 1373.6 910.3 1374.2 916.1 1376.1 951.1 1376.8 953.9 1377.4 946.0 1381.9 763.0 1383.9 708.9 1385.2 684.5 1385.8 677.4 1386.4 675.8 1387.0 679.9 1388.2 700.8 1390.6 758.2 1391.2 763.8 1391.8 762.5 1392.3 754.1 1395.3 679.3 1395.9 671.5 1398.3 653.5 1401.2 603.5 1401.8 597.6 1402.4 607.4 1403.0 629.8 1404.2 710.7 1407.8 1105.2 1408.4 1152.7 1409.0 1162.8 1409.6 1146.3 1412.6 906.1 1413.2 878.7 1414.4 852.9 1415.0 850.0 1415.6 850.4 1417.4 858.2 1418.6 868.4 1422.8 913.2 1424.6 943.0 1427.0 1010.7 1427.6 1023.1 1428.2 1026.9 1428.8 996.2 1431.6 685.3 1432.8 620.0 1433.4 606.9 1433.9 605.9 1434.6 610.0 1435.8 637.1 1438.3 738.3 1443.9 1036.4 1447.0 1234.3 1449.4 963.6 1451.2 800.4 1453.0 704.6 1453.6 688.8 1454.2 681.4 1454.7 702.2 1455.7 803.5 1457.8 1110.2 1459.0 1074.0 1461.3 969.0 1464.9 759.0 1466.1 720.7 1466.7 716.1 1467.3 720.7 1467.8 733.0 1470.8 840.4 1474.4 944.7 1478.5 1186.1 1479.1 1208.8 1479.7 1212.0 1480.3 1205.9 1483.0 1155.0 1486.3 1113.4 1487.6 1086.5 1489.0 1042.3 1492.3 900.1 1493.6 863.1 1494.3 853.2 1494.9 849.2 1495.6 850.7 1496.9 865.9 1500.2 916.7 1501.5 927.1 1502.2 927.1 1502.9 921.6 1503.5 909.2 1504.2 889.9 1507.5 764.1 1508.2 751.6 1508.8 747.3 1509.5 751.6 1510.8 784.1 1512.8 878.6 1514.8 1008.5 1518.1 1266.6 1518.7 1263.1 1522.3 1011.9 1523.4 960.4 1525.2 907.1 1526.4 885.0 1527.0 879.8 1527.6 879.0 1528.8 889.6 1531.2 924.1 1531.8 926.8 1532.3 925.2 1532.9 919.1 1534.1 894.5 1537.7 785.9 1538.3 777.6 1538.9 776.2 1539.5 781.8 1540.1 793.7 1542.4 859.8 1544.8 896.2 1546.0 922.1 1550.2 1093.5 1550.7 1094.9 1551.3 1087.7 1553.1 1042.5 1554.3 1023.3 1554.9 1023.3 1555.5 1030.2 1557.8 1085.0 1558.4 1086.0 1559.0 1082.6 1561.3 1018.5 1561.9 1007.5 1562.5 1005.2 1563.0 1012.9 1563.6 1030.1 1565.3 1092.2 1565.9 1091.9 1567.1 1032.1 1569.5 842.7 1570.1 813.3 1570.7 796.0 1571.2 790.5 1571.8 795.9 1572.4 809.8 1574.8 891.3 1575.4 903.6 1576.0 909.4 1576.6 908.6 1577.7 890.6 1581.3 794.6 1582.4 779.9 1583.0 778.9 1585.4 793.2 1586.0 793.7 1586.6 791.9 1588.3 781.0 1588.9 779.3 1589.5 779.1 1590.7 781.6 1591.9 786.0 1592.5 790.0 1594.8 822.9 1595.4 826.5 1596.0 821.6 1597.2 782.2 1599.0 699.2 1599.6 684.8 1600.1 682.8 1600.7 683.3 1601.3 691.1 1602.5 726.5 1605.5 869.2 1606.1 887.7 1606.7 894.2 1607.3 885.7 1607.9 863.0 1610.3 727.4 1610.9 710.0 1611.5 706.7 1612.1 718.8 1612.6 746.2 1615.6 1019.2 1616.2 1060.5 1616.8 1076.8 1617.4 1061.4 1618.0 1029.7 1620.4 857.8 1621.6 806.1 1622.2 794.9 1622.8 792.8 1623.4 798.0 1626.3 864.0 1626.9 873.4 1627.5 878.0 1628.1 876.9 1628.7 870.2 1631.1 825.5 1631.7 821.7 1632.3 823.0 1636.4 870.5 1639.4 960.7 1640.0 967.0 1640.6 959.1 1642.4 862.3 1646.6 543.7 1647.7 496.7 1648.3 489.3 1648.9 496.7 1649.5 513.0 1651.3 615.5 1656.0 1095.9 1656.6 1146.7 1657.2 1167.8 1657.8 1154.0 1660.2 971.0 1660.8 950.1 1661.5 943.0 1662.1 948.5 1662.7 964.5 1665.8 1110.0 1666.4 1125.6 1667.0 1122.6 1669.4 997.6 1670.6 951.0 1671.8 925.7 1674.2 905.2 1674.8 897.5 1676.0 871.2 1677.8 803.8 1680.8 659.3 1682.0 630.5 1682.6 628.3 1683.2 631.3 1683.8 639.0 1684.4 652.4 1686.3 735.2 1687.5 829.1 1690.6 1129.1 1691.9 1203.0 1692.5 1212.8 1695.1 706.5 1696.2 578.7 1697.2 527.0 1697.7 541.4 1698.8 641.6 1701.3 1109.1 1704.6 539.7 1705.2 481.6 1706.3 426.5 1706.9 439.3 1707.5 466.3 1708.7 557.7 1711.7 894.3 1713.5 1049.1 1715.3 1127.1 1716.5 1157.7 1717.1 1165.9 1718.8 1093.7 1720.5 1038.2 1723.4 867.5 1724.0 850.5 1725.7 821.5 1726.3 795.6 1727.4 690.6 1729.7 395.1 1730.9 302.4 1731.4 283.3 1732.0 298.5 1733.1 373.1 1737.1 856.1 1738.2 961.4 1738.8 989.2 1739.4 996.5 1739.9 985.0 1742.8 821.0 1743.9 781.8 1744.5 778.9 1745.0 789.1 1746.2 848.3 1749.0 1088.8 1749.5 1110.0 1750.1 1111.4 1750.7 1111.5 1751.3 1098.7 1752.6 1034.3 1756.8 695.4 1758.1 650.6 1758.7 644.4 1759.3 652.4 1759.9 669.0 1764.0 818.2 1768.2 1055.2 1768.8 1071.8 1769.4 1080.2 1770.5 1088.5 1771.7 1108.5 1774.7 1238.1 1776.5 1129.1 1777.7 1077.9 1778.9 1047.6 1780.6 1013.0 1781.8 972.3 1784.8 779.4 1786.0 723.2 1786.6 712.7 1787.2 715.9 1788.4 763.6 1791.9 1061.4 1792.5 1090.5 1793.1 1099.8 1793.7 1096.1 1794.3 1078.3 1798.0 873.7 1799.2 827.2 1799.8 816.1 1800.4 814.6 1801.0 822.6 1801.6 839.0 1802.8 881.4 1803.4 893.0 1804.0 886.5 1805.2 810.3 1807.1 644.5 1807.7 610.1 1808.3 595.5 1808.9 598.3 1810.1 630.5 1812.5 729.4 1814.9 805.9 1817.3 920.0 1818.5 959.3 1819.1 960.5 1819.7 948.7 1821.4 876.6 1822.6 842.7 1823.2 838.2 1823.8 843.0 1824.4 857.2 1825.6 909.6 1828.0 1056.1 1829.2 1098.7 1829.8 1094.9 1832.8 1020.4 1834.0 1003.3 1834.6 999.1 1835.2 997.9 1835.8 1000.2 1836.4 1006.2 1838.8 1056.4 1839.4 1066.0 1840.0 1068.0 1840.6 1064.1 1841.2 1054.1 1843.6 995.3 1844.2 988.6 1844.8 988.6 1846.0 1009.3 1847.8 1062.7 1848.4 1065.3 1849.1 1056.1 1849.7 1030.0 1852.7 798.6 1853.4 768.0 1854.0 748.5 1854.6 740.0 1855.2 741.2 1855.8 749.9 1859.5 844.9 1862.5 898.8 1866.2 973.1 1867.5 985.2 1868.1 986.2 1869.3 982.7 1869.9 981.8 1870.5 983.4 1871.1 988.4 1875.4 1063.9 1876.7 1076.5 1878.5 1088.7 1880.3 1108.3 1880.9 1099.7 1881.5 1077.6 1884.4 888.8 1885.0 869.3 1885.6 862.1 1886.2 867.1 1886.8 883.5 1890.3 1092.9 1890.9 1118.3 1892.0 1143.0 1892.6 1143.6 1893.2 1121.3 1895.0 1002.4 1896.2 945.8 1896.7 933.7 1897.3 934.2 1898.5 974.2 1900.9 1158.6 1901.5 1179.4 1903.8 937.1 1904.9 872.6 1905.5 865.8 1906.1 874.9 1906.6 898.2 1909.5 1114.7 1910.1 1142.8 1910.7 1145.9 1911.3 1136.0 1911.9 1100.1 1916.1 785.2 1917.9 703.1 1918.5 693.9 1919.1 694.4 1919.7 703.4 1922.1 776.1 1922.7 788.3 1923.3 793.4 1923.9 790.9 1925.7 760.9 1926.3 754.6 1926.9 755.1 1928.1 781.3 1929.9 853.7 1930.5 867.9 1931.1 868.9 1932.3 832.6 1934.1 750.1 1934.7 733.5 1935.3 726.7 1935.9 730.4 1936.5 744.8 1938.3 843.0 1942.6 1227.4 1945.8 1104.3 1947.1 1077.1 1949.7 1048.9 1951.0 1020.8 1952.4 964.4 1955.6 777.0 1956.9 731.6 1957.6 720.2 1958.2 716.3 1958.9 718.9 1959.5 726.9 1961.5 763.8 1962.1 772.8 1962.8 776.8 1963.5 774.7 1964.1 766.7 1966.7 714.8 1967.4 709.4 1968.0 711.1 1968.7 720.8 1970.6 797.2 1974.6 1059.4 1975.2 1080.6 1975.8 1080.2 1978.3 997.4 1978.9 986.7 1980.2 977.2 1980.8 968.7 1981.4 950.6 1985.1 703.2 1985.7 680.5 1986.4 672.3 1987.0 677.7 1987.6 692.5 1988.2 717.7 1991.1 940.4 1991.7 957.7 1992.3 943.3 1992.9 899.8 1996.5 502.8 1997.7 424.0 1998.3 402.3 1998.9 392.9 1999.6 395.0 2000.8 431.3 2005.8 742.3 2007.7 820.2 2009.0 845.8 2009.6 845.9 2010.2 836.9 2012.1 789.9 2012.7 783.5 2013.4 787.8 2014.0 803.6 2015.9 885.8 2016.5 898.9 2017.1 891.2 2020.3 699.8 2020.9 676.9 2021.5 666.1 2022.1 667.2 2023.4 700.2 2025.9 833.9 2027.2 879.8 2027.8 882.5 2028.4 870.1 2031.6 728.5 2032.8 697.4 2033.4 692.6 2034.1 695.1 2035.3 721.0 2039.1 885.9 2039.7 902.6 2040.4 910.4 2041.0 909.6 2041.6 901.8 2044.7 828.6 2045.4 821.2 2046.0 821.0 2046.6 830.2 2047.9 882.3 2048.5 926.3 2051.7 1229.3 2052.3 1219.3 2054.8 1152.0 2056.0 1133.2 2056.6 1131.0 2057.2 1133.6 2059.1 1156.6 2059.7 1159.0 2061.3 774.3 2062.5 639.5 2063.1 642.8 2064.3 695.8 2067.2 929.1 2067.8 953.1 2068.4 966.5 2069.6 982.9 2070.8 1014.4 2073.7 1166.9 2074.3 1183.2 2074.9 1181.4 2076.1 1135.3 2079.1 917.6 2080.9 825.6 2081.5 811.2 2082.1 805.2 2082.7 806.7 2083.4 814.6 2087.6 925.7 2088.2 935.5 2088.8 940.4 2089.4 938.4 2090.0 928.4 2091.2 882.5 2094.2 703.2 2095.4 662.9 2096.0 658.3 2096.6 663.0 2097.2 674.3 2098.4 715.9 2101.3 895.6 2102.5 942.6 2103.1 938.8 2103.7 913.7 2106.1 724.7 2107.3 665.9 2107.9 658.3 2108.5 666.1 2109.1 687.6 2112.0 893.7 2112.6 926.1 2113.8 959.4 2114.4 963.3 2115.0 962.2 2115.6 957.5 2116.8 934.5 2118.0 883.1 2121.0 711.4 2122.2 677.3 2122.7 669.5 2123.3 666.1 2123.9 665.3 2124.5 666.9 2125.8 680.2 2128.8 766.2 2130.7 801.7 2131.9 812.3 2134.3 828.1 2137.4 863.3 2138.0 867.2 2138.6 868.5" stroke="#ff7f0e"/>
<path d="M342.5 793.5 343.5 863.0 344.9 1070.7 345.4 1082.2 346.0 1063.4 346.6 1024.0 349.0 811.1 350.2 759.2 350.9 759.4 352.1 813.7 355.1 1121.1 355.7 1142.9 356.9 1125.3 358.7 1088.7 359.9 1047.3 364.0 754.0 365.2 697.5 365.8 681.7 366.4 673.7 367.0 672.3 367.6 675.6 368.9 696.4 370.7 756.2 373.8 896.7 375.0 929.4 375.6 930.2 376.2 919.6 377.5 871.6 380.5 705.4 381.8 668.9 382.4 667.4 383.0 680.0 384.1 756.1 387.0 1105.4 387.6 1142.1 388.2 1124.7 388.8 1077.4 391.8 742.8 392.4 706.1 393.0 689.7 393.6 695.4 394.8 769.7 397.2 1057.8 397.8 1113.5 398.4 1136.0 399.0 1131.9 399.5 1123.5 400.7 1102.4 401.9 1065.5 406.0 784.0 406.6 759.5 407.1 744.0 407.7 737.4 408.3 739.4 409.5 766.2 413.0 925.1 413.6 935.9 414.2 935.4 414.7 924.5 417.1 851.5 417.7 845.3 418.3 848.7 419.4 885.3 421.2 979.8 421.8 1002.1 422.4 1010.1 422.9 1002.8 424.7 938.7 425.9 912.4 426.4 910.3 427.0 914.0 428.8 934.0 429.4 935.1 430.0 931.1 431.7 902.4 432.3 895.7 432.9 895.2 433.5 903.2 434.0 921.2 434.6 949.7 437.0 1113.5 437.6 1128.3 438.1 1127.5 438.7 1123.6 439.9 1104.9 443.4 947.0 444.5 917.2 445.1 912.1 445.7 912.2 447.4 924.7 448.0 925.6 448.6 922.2 452.1 862.2 453.2 850.3 455.5 832.1 456.1 830.2 456.7 830.8 457.3 834.5 459.6 865.4 460.2 868.8 460.8 867.2 461.3 860.3 463.7 815.8 464.2 811.9 464.8 814.1 465.4 822.6 466.6 857.3 468.9 955.9 469.5 969.0 470.1 969.1 471.2 925.3 474.1 732.8 474.7 712.0 475.3 702.5 475.9 704.9 477.0 743.2 479.9 907.2 480.5 921.0 481.1 922.0 482.2 888.4 485.1 716.5 485.7 693.9 486.3 683.3 486.9 687.1 487.5 707.0 488.0 743.5 489.2 863.9 491.5 1199.9 492.1 1202.4 492.7 1200.1 493.3 1167.9 496.7 801.4 497.9 726.0 498.4 707.6 499.0 701.6 499.6 706.0 500.8 725.5 503.2 785.9 504.4 830.6 506.2 947.1 508.0 1128.7 508.6 1162.1 509.2 1139.1 512.2 935.4 514.0 851.2 515.2 813.0 516.4 789.1 517.0 782.4 518.8 769.9 519.4 760.5 520.6 722.6 523.0 613.1 523.6 599.3 524.2 597.6 524.7 599.4 525.3 607.8 527.7 679.6 528.9 706.9 529.5 711.7 530.1 710.9 531.8 695.5 532.4 693.6 533.0 696.3 533.6 704.4 534.2 718.7 536.0 801.3 538.9 1037.8 539.5 1074.7 540.1 1092.9 540.7 1085.2 541.3 1061.6 541.9 1020.6 544.4 785.0 546.2 654.9 547.4 614.5 548.0 606.7 548.6 605.9 549.2 607.8 550.4 633.4 551.6 692.6 554.7 920.6 555.9 989.8 557.7 1059.8 558.9 1087.2 559.6 1036.8 561.5 770.2 562.8 638.9 563.4 599.4 564.0 578.7 564.7 576.6 565.2 579.6 566.4 616.4 570.5 914.9 571.6 958.6 572.2 960.3 573.4 923.8 576.3 734.9 577.5 686.3 578.0 675.2 578.6 672.3 579.2 674.6 579.8 685.3 580.9 733.8 582.6 844.2 583.2 868.5 583.7 873.8 584.9 823.0 586.6 697.3 587.1 670.8 587.7 658.3 588.3 668.6 588.9 690.5 591.9 853.7 592.4 870.8 593.0 879.0 593.6 879.9 594.2 875.4 596.6 837.0 597.8 825.4 598.4 825.8 599.0 830.7 601.3 873.0 601.9 879.1 602.5 880.5 603.1 877.2 604.9 859.9 605.5 859.9 606.1 866.4 607.2 905.2 607.8 939.2 610.8 1210.1 611.4 1176.6 613.8 775.7 614.9 696.7 615.6 700.2 616.8 731.5 620.5 925.9 621.7 968.9 622.3 977.7 622.9 976.4 624.2 944.6 627.2 815.7 627.9 801.8 628.5 795.2 629.1 796.6 629.7 806.6 630.3 825.7 631.5 891.4 634.0 1069.5 634.6 1075.6 635.2 1075.8 635.9 1072.4 636.5 1063.3 639.0 989.0 640.3 966.0 640.9 963.6 642.8 974.1 643.4 972.8 644.1 964.0 645.3 923.9 647.9 812.9 649.1 776.0 649.7 766.3 650.4 762.9 651.0 765.3 653.5 804.0 654.2 809.4 654.8 809.1 655.4 802.9 657.3 769.9 657.9 764.3 658.6 765.8 659.2 776.1 660.5 824.0 664.2 1071.6 665.5 1130.6 666.8 1167.9 667.4 1177.7 668.0 1178.2 670.5 958.3 671.1 920.9 671.7 898.7 672.3 891.6 672.9 897.6 673.5 914.2 674.7 966.2 679.6 1229.3 680.1 1217.6 682.5 1059.2 683.7 1020.4 684.3 1020.7 684.9 1034.3 686.6 1119.0 687.2 1133.3 687.8 1129.3 689.0 1047.7 691.4 816.8 692.6 742.2 693.2 724.8 693.8 721.0 694.4 728.5 696.2 768.6 696.8 769.1 697.3 758.9 699.1 701.5 699.7 688.1 700.3 681.6 700.9 682.0 702.1 697.6 704.5 750.2 705.7 791.6 708.0 908.3 708.6 923.4 709.2 924.2 709.8 911.9 711.6 844.4 712.8 812.2 717.0 739.5 717.6 734.4 718.2 735.4 719.3 756.8 722.3 862.3 723.5 891.8 724.1 899.0 724.7 900.4 725.3 896.6 727.1 877.2 727.7 877.2 728.9 895.1 731.2 954.3 733.0 975.5 733.6 986.7 734.8 1028.0 737.2 1148.6 740.2 870.4 741.4 795.2 742.0 776.8 742.6 769.9 743.2 771.3 744.5 780.4 745.1 778.4 745.7 767.8 749.3 620.3 749.9 606.7 750.5 599.1 751.1 596.9 752.3 603.4 753.5 616.9 755.3 645.7 757.1 682.5 758.8 739.0 761.2 843.7 761.8 855.2 762.4 852.5 763.0 836.2 765.4 734.5 766.0 724.1 766.6 725.0 767.1 737.5 768.9 837.4 772.5 1171.7 773.1 1211.4 773.7 1224.3 774.3 1209.4 776.7 1111.1 777.9 1084.6 778.5 1080.6 779.1 1082.6 781.5 1124.3 782.1 1127.5 782.7 1117.2 786.3 898.0 786.9 875.6 787.5 864.8 788.1 866.1 788.7 878.3 791.2 967.6 791.8 974.2 792.4 966.9 796.0 792.4 797.2 756.9 797.8 751.7 798.4 756.4 799.6 797.2 803.2 1063.7 803.8 1092.9 804.4 1106.4 805.0 1097.8 805.6 1071.0 807.9 915.5 808.4 893.1 809.0 882.4 809.6 882.3 811.3 904.8 811.9 902.6 814.2 837.0 814.8 826.0 815.3 822.2 815.9 825.0 817.7 851.4 818.2 857.4 818.8 859.0 819.4 856.3 821.1 836.3 821.7 831.9 822.3 831.0 822.8 834.5 823.4 841.8 825.1 871.7 825.7 875.7 826.3 872.8 826.9 862.8 829.2 798.0 829.8 790.8 830.3 791.1 831.5 814.8 832.6 861.4 836.1 1025.3 839.0 1187.0 839.6 1155.2 842.0 933.9 843.2 870.5 843.9 859.7 844.5 863.6 845.7 912.8 848.1 1114.7 848.7 1153.6 849.3 1158.2 849.9 1153.6 852.9 855.7 853.5 828.8 854.1 817.8 854.6 820.8 855.2 834.1 857.6 905.6 858.2 912.6 858.8 914.7 859.9 913.8 860.5 915.1 861.1 918.9 864.1 958.2 865.2 969.4 865.8 971.5 866.4 970.1 867.0 964.7 868.2 941.1 872.3 809.9 872.9 800.3 873.5 796.0 874.1 797.4 874.7 805.1 875.8 839.3 878.8 971.5 879.4 982.5 880.0 985.8 880.6 985.9 881.1 989.4 881.7 1002.1 882.9 1069.4 884.7 1237.0 885.3 1200.0 887.7 865.8 888.9 780.3 889.5 758.9 890.1 749.7 890.7 750.6 891.9 774.3 896.7 926.6 900.9 1036.7 904.0 1099.3 906.4 1200.7 907.0 1213.9 914.8 674.0 916.0 625.3 916.6 618.5 917.2 625.9 918.4 668.5 921.4 842.7 922.6 883.2 923.2 892.1 923.8 895.1 924.4 894.7 925.0 893.3 925.6 893.5 926.2 897.4 928.6 936.8 929.2 932.0 929.8 911.1 932.8 713.8 933.4 700.2 934.0 704.0 934.6 712.4 936.4 769.6 940.5 988.9 942.3 1047.5 943.5 1067.2 944.1 1066.6 944.6 1054.7 945.2 1030.0 948.2 822.0 949.4 772.4 950.0 765.2 950.6 770.3 953.0 854.2 953.6 865.6 954.2 863.6 954.8 848.9 957.8 730.0 958.4 719.3 959.0 715.3 959.6 718.2 960.8 744.7 963.8 887.1 966.8 984.4 969.7 1153.7 970.3 1154.4 970.9 1149.7 975.8 1090.8 977.0 1074.3 978.2 1050.0 980.0 981.8 983.0 797.8 984.2 752.8 984.8 746.2 985.4 751.3 986.0 767.7 987.2 830.4 991.4 1172.1 992.0 1208.7 992.6 1219.7 996.0 1041.7 997.2 1017.5 997.8 1013.9 998.9 1012.6 999.5 1008.4 1000.0 997.8 1006.3 752.3 1008.0 703.7 1008.6 700.8 1009.2 706.9 1009.7 722.1 1012.6 877.0 1013.7 924.2 1014.3 937.1 1016.6 964.5 1018.3 997.1 1018.9 996.4 1019.4 981.9 1021.7 832.8 1022.8 776.4 1023.4 766.3 1024.0 770.5 1025.1 821.5 1028.0 1098.4 1028.5 1140.0 1029.1 1153.6 1029.7 1152.4 1030.3 1127.3 1034.0 876.0 1035.2 827.2 1035.8 813.6 1036.4 807.6 1037.0 809.9 1038.3 839.7 1040.7 967.0 1041.3 991.6 1041.9 1002.4 1042.5 997.7 1044.4 938.9 1045.0 925.9 1045.6 922.7 1046.2 929.9 1048.0 979.7 1048.6 985.1 1049.2 976.2 1051.7 879.2 1052.3 871.3 1052.9 877.3 1054.1 928.2 1055.9 1042.7 1056.5 1066.4 1057.2 1075.6 1057.8 1075.1 1058.4 1064.5 1059.0 1041.1 1061.5 898.2 1062.7 857.5 1063.3 850.2 1063.9 850.5 1066.4 883.6 1067.0 887.7 1067.6 885.7 1068.8 859.4 1071.3 759.0 1072.5 726.8 1073.1 721.8 1073.7 724.9 1074.3 735.8 1077.4 848.2 1078.0 858.3 1078.6 854.3 1079.9 802.5 1082.3 651.6 1082.9 633.2 1083.6 628.3 1084.2 630.1 1084.8 646.0 1086.0 717.5 1090.1 1145.5 1091.3 1215.9 1091.9 1208.5 1094.3 991.3 1095.5 925.6 1096.1 909.3 1096.6 901.3 1097.8 893.1 1098.4 883.0 1101.4 755.5 1102.0 741.5 1102.5 740.0 1103.1 751.9 1105.5 878.8 1106.1 895.8 1106.7 890.9 1109.6 694.2 1110.2 671.0 1110.8 661.8 1111.4 671.4 1112.5 716.4 1115.9 910.1 1116.5 931.6 1117.7 957.4 1118.2 962.5 1118.8 963.5 1120.5 955.7 1121.1 955.6 1121.7 959.8 1123.4 990.4 1124.0 991.4 1124.5 977.3 1125.1 946.8 1127.4 783.5 1128.0 762.2 1128.5 753.4 1129.1 755.7 1131.4 807.0 1132.5 821.1 1134.8 834.5 1136.0 846.9 1141.7 948.0 1143.4 1016.6 1146.3 1215.9 1146.9 1199.1 1149.9 1027.3 1151.1 998.0 1151.7 995.8 1152.3 1001.7 1153.6 1035.7 1156.6 1197.3 1157.8 1242.0 1158.4 1234.2 1161.3 925.2 1163.0 776.9 1164.2 721.6 1164.8 708.7 1165.3 705.0 1165.9 709.4 1166.5 720.2 1168.8 780.3 1171.7 818.9 1172.9 845.1 1175.8 948.4 1179.3 1040.4 1181.6 1151.3 1182.2 1117.3 1188.5 527.7 1189.8 458.2 1190.4 445.3 1191.0 455.0 1191.6 479.2 1195.3 747.2 1198.3 892.2 1201.3 1072.4 1202.5 1112.8 1203.1 1113.3 1203.7 1110.1 1204.4 1097.1 1208.1 997.2 1209.3 929.8 1213.0 623.6 1213.6 596.7 1214.2 582.9 1214.9 581.5 1215.5 588.7 1216.1 605.7 1217.3 669.7 1220.4 918.2 1221.0 936.9 1221.6 929.3 1224.0 803.8 1224.7 793.8 1225.3 800.5 1226.5 859.2 1228.9 1037.1 1229.6 1062.3 1230.2 1073.6 1230.8 1073.7 1231.4 1019.6 1234.0 667.1 1235.2 553.4 1235.9 525.6 1236.5 518.6 1237.1 522.9 1239.4 578.1 1240.0 581.4 1240.5 575.3 1241.1 560.5 1242.8 496.8 1243.4 483.4 1244.0 480.2 1244.6 487.2 1245.2 508.7 1248.8 752.1 1249.4 769.5 1250.0 774.9 1250.6 771.4 1252.3 748.3 1252.9 746.5 1253.5 750.3 1254.1 760.1 1255.9 824.6 1259.5 1026.3 1260.1 1041.6 1260.7 1043.0 1261.4 1039.2 1262.6 967.8 1265.7 712.3 1268.8 500.9 1270.0 446.8 1270.7 431.4 1271.3 424.1 1271.9 424.4 1272.5 429.0 1273.7 453.7 1275.5 534.4 1277.3 684.3 1280.2 1009.7 1281.4 1086.5 1282.0 1100.7 1282.6 1102.5 1283.2 1091.2 1283.9 1043.5 1288.2 493.8 1289.4 420.0 1290.1 406.9 1290.6 406.5 1294.7 467.2 1295.9 505.9 1297.0 576.5 1299.3 777.2 1300.5 844.6 1301.1 857.3 1301.7 858.4 1302.8 849.5 1303.4 851.2 1304.0 861.6 1306.3 966.3 1306.9 981.7 1307.5 978.0 1308.0 953.9 1310.4 773.1 1312.1 685.8 1312.7 675.5 1313.3 673.5 1313.8 678.2 1316.2 720.8 1316.7 728.0 1317.3 731.2 1317.9 729.8 1318.5 724.1 1320.2 698.7 1320.8 696.7 1321.4 701.2 1322.6 731.2 1323.8 783.3 1330.0 1122.0 1331.2 1179.0 1331.8 1192.8 1332.4 1191.4 1333.0 1184.5 1334.7 1143.0 1341.7 922.7 1344.0 836.1 1345.1 805.3 1345.7 798.6 1346.3 798.8 1346.9 805.9 1348.1 838.4 1352.7 1046.3 1354.4 1103.3 1355.6 1124.9 1356.2 1130.0 1356.8 1131.3 1357.4 1127.2 1361.0 1028.6 1362.2 1009.7 1362.8 1006.0 1363.4 1007.6 1364.0 1015.3 1365.8 1060.9 1366.4 1065.3 1367.0 1062.9 1367.6 1053.5 1368.2 1034.3 1368.8 1004.8 1374.2 581.6 1375.4 526.4 1376.0 520.7 1377.2 539.0 1378.9 599.9 1382.5 814.4 1383.7 870.4 1384.3 884.8 1384.9 888.2 1385.5 881.4 1387.3 835.1 1387.9 827.4 1388.5 830.2 1390.3 889.5 1390.9 897.3 1391.5 876.7 1392.0 824.0 1395.0 452.1 1395.6 416.4 1396.2 400.6 1396.8 407.2 1398.0 472.4 1401.6 792.2 1404.7 946.1 1406.5 1063.4 1407.1 1073.0 1407.7 1044.4 1410.7 783.2 1411.9 725.0 1412.5 713.7 1413.1 715.6 1414.3 760.2 1417.2 1007.8 1417.8 1028.4 1418.5 1018.0 1419.8 936.7 1422.9 589.5 1424.2 514.6 1424.9 504.7 1425.5 508.2 1426.1 520.1 1427.9 573.9 1429.1 599.1 1429.7 605.7 1431.6 616.0 1432.2 621.8 1434.0 659.8 1435.9 734.9 1442.6 1108.1 1443.2 1129.4 1443.8 1112.2 1446.8 695.7 1447.4 645.7 1448.0 615.6 1448.6 604.5 1449.8 636.5 1453.4 819.1 1454.6 866.8 1455.2 879.6 1455.8 883.5 1456.4 879.5 1458.8 839.3 1459.4 833.7 1460.0 831.8 1460.6 833.8 1461.2 840.1 1462.3 867.1 1464.1 948.8 1467.1 1152.5 1468.3 1202.4 1468.9 1210.1 1474.9 705.4 1476.0 627.2 1476.6 603.7 1477.2 593.4 1477.8 595.3 1478.4 605.7 1479.6 649.2 1483.7 885.6 1484.9 919.7 1485.5 927.2 1486.1 928.8 1486.7 924.6 1487.3 914.2 1490.2 802.5 1490.8 787.3 1491.4 782.1 1492.0 788.4 1492.6 805.6 1494.4 882.9 1495.0 894.6 1495.5 889.3 1498.5 727.2 1499.7 688.6 1500.3 684.2 1501.5 731.9 1503.2 858.9 1503.8 887.1 1504.4 899.1 1505.0 896.9 1506.8 867.0 1507.4 863.3 1508.6 860.2 1509.2 854.9 1510.9 826.0 1511.5 824.4 1512.1 832.7 1512.7 851.4 1514.5 921.6 1515.1 921.2 1515.7 899.1 1518.6 690.3 1519.2 669.5 1519.8 660.4 1520.4 665.8 1521.6 693.7 1522.8 736.1 1524.6 823.9 1525.8 914.7 1528.3 1157.9 1528.9 1158.2 1529.5 1147.6 1531.9 967.2 1533.8 869.1 1541.8 627.4 1543.0 596.2 1543.7 586.0 1544.3 581.5 1544.9 588.5 1546.1 635.0 1548.5 796.8 1549.7 848.7 1550.3 852.3 1550.9 840.7 1553.3 731.3 1554.5 696.6 1555.1 691.5 1555.7 695.2 1556.3 707.2 1558.7 806.9 1559.9 841.1 1560.5 843.0 1561.1 835.7 1563.5 781.8 1566.5 738.2 1567.1 733.1 1567.7 732.9 1568.3 739.9 1569.5 779.6 1570.7 851.3 1574.9 1184.4 1578.8 732.2 1580.0 659.8 1580.7 644.1 1581.3 639.5 1582.5 650.5 1583.6 672.8 1585.4 737.4 1586.6 816.4 1589.0 1023.2 1589.5 1050.7 1590.2 1008.8 1592.6 728.9 1593.2 692.4 1593.9 675.8 1594.5 690.3 1595.1 720.5 1597.5 932.9 1598.1 970.7 1598.7 980.8 1599.3 961.4 1601.7 794.3 1602.3 769.9 1602.9 758.6 1603.5 760.8 1604.7 801.2 1607.2 960.8 1608.4 1012.3 1609.0 992.8 1611.4 828.1 1612.6 765.1 1613.9 728.2 1614.5 717.7 1615.1 711.6 1615.7 709.5 1616.3 711.3 1617.5 726.6 1619.9 796.8 1621.8 877.1 1624.2 1011.8 1625.4 1057.1 1626.0 1057.6 1628.5 929.3 1629.1 911.0 1629.7 905.5 1630.3 911.1 1632.1 946.5 1632.7 948.3 1634.5 931.2 1635.1 932.6 1635.7 942.8 1638.1 1043.1 1638.7 1058.4 1639.3 1057.4 1639.9 1048.2 1640.5 1029.3 1643.5 858.1 1644.7 807.5 1645.2 795.0 1645.8 792.0 1646.4 798.6 1647.0 814.0 1650.6 974.3 1651.2 987.8 1651.8 991.5 1652.4 985.0 1654.2 915.2 1657.7 705.6 1658.9 663.9 1659.5 654.8 1660.1 658.3 1661.3 681.9 1664.2 772.7 1667.1 848.6 1670.6 988.0 1671.7 1014.3 1672.3 1014.5 1673.5 989.7 1676.9 810.3 1678.1 766.1 1678.7 757.1 1679.3 758.4 1679.9 769.8 1682.2 863.4 1682.8 878.0 1683.3 883.0 1683.9 879.6 1685.7 853.3 1686.3 849.3 1686.8 848.9 1688.0 852.3 1688.6 850.8 1689.7 832.5 1690.9 803.4 1691.5 793.8 1692.1 792.8 1692.6 803.4 1693.8 863.3 1696.1 1069.3 1696.7 1096.0 1697.9 1017.1 1700.4 765.0 1701.6 678.4 1702.2 654.1 1702.8 644.4 1703.4 647.5 1704.0 660.2 1706.9 775.4 1707.5 787.2 1708.1 789.7 1708.7 782.6 1709.3 766.4 1712.2 645.3 1712.8 632.3 1713.4 625.9 1714.0 624.8 1714.6 638.2 1715.7 728.4 1718.0 1069.4 1718.6 1119.8 1719.2 1114.4 1719.8 1102.2 1721.0 1058.9 1724.0 899.9 1725.7 824.7 1728.7 727.6 1729.9 707.7 1730.5 710.1 1731.1 723.2 1732.3 783.5 1735.9 1104.6 1736.5 1139.2 1737.0 1156.3 1738.2 1108.9 1740.7 950.7 1741.9 900.4 1742.5 892.1 1743.1 897.3 1743.7 915.9 1746.1 1076.4 1746.7 1099.8 1747.2 1097.7 1749.6 912.9 1750.8 861.5 1751.4 855.4 1752.0 859.6 1753.8 895.5 1754.4 901.9 1755.0 901.5 1755.5 893.5 1756.7 857.3 1759.7 715.4 1760.9 679.3 1761.5 672.3 1762.0 681.0 1762.6 703.4 1763.8 790.9 1766.6 1136.0 1767.2 1134.9 1768.4 1123.2 1769.6 1097.0 1773.2 954.5 1773.8 939.8 1774.4 933.7 1775.0 937.1 1776.2 971.2 1779.2 1105.3 1780.4 1128.6 1781.0 1133.7 1781.6 1136.0 1782.2 1134.2 1782.8 1106.0 1786.3 758.4 1787.5 689.5 1788.1 674.9 1788.7 674.4 1789.3 675.2 1789.9 688.8 1793.5 871.7 1794.1 884.7 1794.7 888.7 1795.9 883.2 1796.5 882.1 1797.1 887.2 1797.6 900.3 1800.0 987.2 1800.6 983.8 1801.2 959.5 1803.6 784.0 1804.8 721.4 1806.6 670.0 1807.8 652.3 1808.4 648.3 1809.0 647.8 1809.6 650.3 1810.8 680.8 1816.9 1011.3 1821.7 1211.8 1822.3 1217.8 1824.1 1000.0 1825.4 906.2 1829.6 679.1 1830.8 627.7 1831.4 613.1 1832.0 608.0 1832.6 608.5 1833.2 617.1 1837.2 769.3 1838.3 793.7 1841.8 851.5 1843.5 900.6 1845.8 985.6 1846.3 999.1 1846.9 1004.4 1847.5 999.6 1848.1 983.6 1848.6 955.8 1852.6 600.2 1853.8 543.4 1854.4 536.1 1855.0 545.5 1855.6 568.2 1856.8 652.3 1859.9 1021.4 1860.5 1082.0 1861.1 1100.6 1861.7 1088.8 1864.2 801.0 1865.4 723.4 1866.1 713.0 1866.7 718.8 1868.5 775.0 1869.2 782.6 1869.8 777.2 1871.6 719.9 1872.2 708.3 1872.9 707.8 1873.5 719.0 1875.3 782.4 1876.0 790.4 1876.6 781.9 1877.2 757.4 1879.7 614.7 1880.3 593.8 1880.9 583.6 1881.5 593.6 1882.7 647.4 1885.7 845.8 1886.3 863.1 1886.9 866.6 1887.5 858.5 1889.3 814.5 1889.9 809.3 1890.5 813.2 1891.6 848.5 1894.6 993.6 1897.0 1081.0 1897.6 1086.0 1898.2 1079.1 1899.3 1041.4 1901.1 954.7 1904.0 757.9 1905.1 716.2 1905.7 713.1 1906.3 722.1 1906.8 741.6 1909.1 853.5 1910.3 883.8 1912.0 914.5 1915.5 1042.8 1916.6 1064.2 1918.9 1090.7 1921.2 1124.5 1924.1 1182.4 1924.7 1188.5 1925.3 1189.0 1925.9 1180.6 1926.5 1163.0 1928.8 1073.0 1930.0 1048.5 1930.6 1047.6 1931.2 1055.6 1931.8 1072.9 1933.5 1160.8 1934.1 1177.4 1934.7 1173.5 1935.3 1139.2 1936.5 989.8 1940.0 346.5 1941.2 211.5 1941.8 176.6 1942.4 164.6 1942.9 176.6 1943.5 202.2 1944.7 302.5 1945.9 473.5 1948.3 946.7 1948.9 1040.8 1949.5 1077.6 1950.1 1028.1 1952.4 645.2 1953.6 534.2 1954.2 513.1 1954.8 522.0 1956.0 572.4 1959.6 887.2 1960.8 952.5 1961.4 953.9 1962.0 936.7 1963.7 853.0 1964.3 836.3 1964.9 830.8 1965.5 837.6 1966.1 855.8 1968.5 983.5 1969.1 1001.9 1969.7 1002.4 1970.9 952.5 1972.7 841.6 1973.8 802.9 1974.4 800.6 1975.0 809.6 1976.2 856.1 1979.8 1089.3 1980.4 1111.5 1981.0 1114.1 1981.6 1108.5 1982.2 1082.4 1985.2 847.6 1985.8 825.3 1986.4 821.2 1987.0 836.1 1987.6 869.5 1990.0 1082.4 1990.6 1092.2 1991.2 1081.5 1992.9 983.0 1997.0 640.4 1997.6 616.1 1998.2 605.9 1998.8 611.8 2000.1 659.8 2002.5 811.6 2005.6 961.7 2008.0 1200.1 2008.6 1206.2 2010.4 1102.4 2011.0 1083.6 2011.6 1079.2 2012.2 1088.7 2012.8 1110.2 2014.6 1214.8 2015.2 1229.3 2015.8 1213.7 2016.4 1164.7 2019.9 810.0 2021.1 734.2 2022.3 698.7 2022.9 697.2 2023.5 706.4 2024.1 725.6 2025.3 790.5 2027.7 959.9 2028.3 987.3 2028.9 999.7 2029.5 995.5 2030.7 947.6 2033.7 746.9 2034.8 688.0 2035.4 670.8 2036.0 662.4 2036.6 661.8 2037.2 666.9 2038.4 703.2 2039.5 772.4 2042.4 1039.1 2043.0 1080.2 2043.6 1098.7 2044.2 1095.2 2044.7 1064.9 2047.6 814.9 2048.8 760.8 2049.4 750.2 2050.0 749.6 2050.6 757.3 2053.5 845.5 2054.6 869.5 2055.2 874.4 2055.8 873.8 2056.4 867.7 2058.1 830.8 2058.7 822.0 2059.3 820.5 2059.8 828.8 2061.0 878.1 2063.3 1048.3 2064.5 1110.7 2066.8 1187.3 2067.4 1198.6 2070.4 1061.3 2075.1 921.2 2076.3 898.4 2076.9 893.5 2077.5 893.2 2078.1 897.7 2078.7 907.9 2079.9 948.1 2083.5 1156.0 2084.1 1166.3 2084.7 1167.1 2085.3 1158.0 2088.7 893.0 2089.8 851.8 2092.7 806.8 2093.8 779.5 2095.5 702.7 2097.8 564.6 2098.9 524.4 2099.5 520.7 2100.1 538.6 2101.3 651.7 2103.7 1047.1 2104.3 1103.7 2106.0 1037.4 2106.6 1021.3 2107.2 1016.9 2107.8 1025.2 2108.4 1044.6 2110.2 1130.0 2110.8 1149.7 2111.4 1158.9 2112.0 1160.2 2112.5 1147.5 2113.1 1121.0 2116.7 884.9 2117.9 827.3 2119.1 797.5 2119.6 793.9 2120.2 797.5 2121.4 822.8 2123.2 893.5 2126.7 1081.0 2127.3 1091.0 2127.9 1090.5 2129.1 1077.9 2130.3 1059.5 2132.1 1019.8 2133.9 953.6 2136.8 809.7 2138.0 772.9 2138.6 765.3" stroke="#2ca02c"/>
</g>
<rect x="252.5" y="106.5" width="1975" height="1219" fill="none" stroke="#000" stroke-width="3.3333" stroke-linejoin="miter"/>
<path d="M342.5 1325.5V1340.08M641.5 1325.5V1340.08M941.5 1325.5V1340.08M1240.5 1325.5V1340.08M1539.5 1325.5V1340.08M1839.5 1325.5V1340.08M2138.5 1325.5V1340.08M237.92 1288.5H252.5M237.92 1080.5H252.5M237.92 871.5H252.5M237.92 663.5H252.5M237.92 454.5H252.5M237.92 246.5H252.5" stroke="#000" stroke-width="3.3333" fill="none"/>
<rect x="1993" y="127.1" width="213.8" height="194.5" rx="8.33" ry="8.33" fill="#fff" fill-opacity="0.8" stroke="#ccc" stroke-opacity="0.8" stroke-width="4.1667"/>
<path d="M2009.36 159.9H2092.69" stroke="#1f77b4" stroke-width="6.25" stroke-linecap="square"/>
<text font-size="100" transform="matrix(0.45776 0 0 0.43108 2126.17 175.47)">cf1</text>
<path d="M2009.36 220.5H2092.69" stroke="#ff7f0e" stroke-width="6.25" stroke-linecap="square"/>
<text font-size="100" transform="matrix(0.45856 0 0 0.43568 2126.17 236.46)">cf5</text>
<path d="M2009.36 281.6H2092.69" stroke="#2ca02c" stroke-width="6.25" stroke-linecap="square"/>
<text font-size="100" transform="matrix(0.47200 0 0 0.43270 2126.11 297.13)">cf6</text>
<text font-size="100" transform="matrix(0.46502 0 0 0.43662 106.14 1303.12)">0.000</text>
<text font-size="100" transform="matrix(0.46058 0 0 0.43662 106.16 1095.12)">0.002</text>
<text font-size="100" transform="matrix(0.46311 0 0 0.43662 106.15 887.12)">0.004</text>
<text font-size="100" transform="matrix(0.46694 0 0 0.43662 106.13 678.12)">0.006</text>
<text font-size="100" transform="matrix(0.46694 0 0 0.43662 106.13 470.12)">0.008</text>
<text font-size="100" transform="matrix(0.46502 0 0 0.43662 106.14 261.12)">0.010</text>
<text font-size="100" transform="matrix(0.43750 0 0 0.44620 331.25 1385.45)">0</text>
<text font-size="100" transform="matrix(0.41667 0 0 0.42686 630.33 1386.47)">5</text>
<text font-size="100" transform="matrix(0.45455 0 0 0.44620 915.36 1385.45)">10</text>
<text font-size="100" transform="matrix(0.44444 0 0 0.42686 1214.44 1386.47)">15</text>
<text font-size="100" transform="matrix(0.46078 0 0 0.44620 1513.70 1385.45)">20</text>
<text font-size="100" transform="matrix(0.45098 0 0 0.44620 1812.75 1385.45)">25</text>
<text font-size="100" transform="matrix(0.44660 0 0 0.44620 2112.21 1385.45)">30</text>
<text font-size="100" transform="matrix(0.54607 0 0 0.51064 960.63 81.28)">Leader Tracking Errors</text>
<text font-size="100" transform="matrix(0.46028 0 0 0.39021 1155.08 1440.71)">Time (s)</text>
<text font-size="100" transform="matrix(0 -0.46108 0.43617 0 76.84 903.92)">Tracking Error (m)</text>
<path d="M2570.5 106.5V1325.5M2869.5 106.5V1325.5M3168.5 106.5V1325.5M3468.5 106.5V1325.5M3767.5 106.5V1325.5M4066.5 106.5V1325.5M4365.5 106.5V1325.5M2480.5 1289.5H4455.5M2480.5 1058.5H4455.5M2480.5 827.5H4455.5M2480.5 597.5H4455.5M2480.5 366.5H4455.5M2480.5 135.5H4455.5" stroke="#b0b0b0" stroke-width="3.3333" fill="none" stroke-linecap="square"/>
<g clip-path="url(#clipR)" fill="none" stroke-width="6.25" stroke-linejoin="round" stroke-linecap="square">
<path d="M2570.5 778.2 2573.4 1019.2 2573.9 967.5 2576.7 512.2 2577.8 400.5 2578.4 372.0 2579.0 361.5 2579.6 374.3 2580.8 458.4 2583.8 803.7 2585.1 898.4 2586.9 975.1 2588.1 1007.0 2588.7 1014.2 2589.3 1007.8 2589.9 993.6 2591.1 936.4 2594.6 576.5 2595.8 508.2 2596.4 499.8 2597.0 510.8 2597.6 535.9 2600.5 771.3 2601.1 803.5 2601.7 817.2 2602.3 812.3 2604.7 721.1 2605.2 707.9 2605.8 704.0 2606.4 709.7 2607.6 746.3 2610.5 916.9 2611.7 1012.9 2613.5 1209.9 2614.1 1216.6 2617.7 672.3 2618.9 576.0 2619.5 558.4 2620.0 570.7 2621.2 636.3 2624.8 990.1 2626.0 1062.6 2626.6 1077.9 2627.1 1081.4 2627.7 1077.5 2630.0 1012.7 2630.6 1004.1 2631.2 1007.3 2631.8 1023.9 2633.5 1132.6 2634.1 1152.5 2637.1 1025.6 2641.2 792.5 2642.4 750.3 2643.0 738.0 2643.6 731.2 2644.2 730.0 2644.8 734.0 2646.0 757.2 2650.2 907.4 2652.6 972.9 2653.8 994.8 2654.4 992.7 2655.0 978.0 2657.4 842.8 2658.6 791.5 2659.2 780.1 2659.8 778.9 2660.4 786.9 2661.6 823.6 2665.8 992.4 2668.8 1156.2 2669.4 1169.8 2670.0 1167.3 2671.8 1084.1 2673.0 1043.0 2675.5 973.6 2676.1 960.5 2676.7 953.9 2677.3 956.7 2677.9 971.0 2678.5 997.9 2680.3 1128.4 2680.9 1145.9 2681.5 1140.5 2682.7 1049.0 2685.6 734.4 2686.7 657.4 2687.3 638.1 2687.9 631.8 2688.5 634.9 2689.7 661.5 2691.6 716.9 2692.2 726.8 2692.8 727.7 2694.0 701.4 2696.5 608.2 2697.1 594.3 2697.7 588.5 2698.3 591.8 2698.8 614.8 2702.3 896.6 2702.8 909.2 2703.4 904.7 2705.1 860.0 2705.7 858.7 2706.3 872.1 2707.4 946.4 2709.2 1109.7 2709.7 1119.1 2710.3 1115.1 2713.9 828.9 2715.7 712.7 2717.5 638.0 2718.7 616.7 2719.3 614.3 2719.9 615.1 2720.5 618.5 2721.1 625.4 2722.3 653.6 2725.4 780.4 2726.0 796.3 2726.6 803.1 2727.2 800.9 2729.6 760.8 2730.2 758.6 2730.8 762.7 2732.6 796.3 2733.2 803.8 2733.8 804.2 2734.4 796.8 2736.2 754.7 2736.8 747.5 2737.4 749.0 2738.0 759.6 2741.1 864.0 2741.7 873.2 2742.9 883.7 2744.1 910.8 2747.7 1131.7 2748.3 1148.2 2748.9 1148.6 2749.5 1141.1 2750.1 1106.8 2753.7 719.0 2755.5 567.2 2756.7 507.7 2757.2 491.2 2757.8 483.3 2758.4 483.7 2759.1 492.6 2759.7 523.3 2760.3 575.8 2763.4 1036.9 2764.7 1162.1 2765.3 1154.8 2765.9 1135.3 2770.9 905.2 2772.2 864.4 2773.4 839.9 2774.1 833.5 2775.3 828.0 2777.8 820.8 2778.4 820.5 2779.1 823.1 2780.3 840.4 2783.4 922.4 2784.1 931.9 2784.7 935.9 2785.3 933.7 2785.9 925.5 2787.2 893.1 2791.0 747.2 2792.2 720.5 2792.8 718.8 2793.5 726.5 2794.1 743.7 2797.2 912.9 2798.5 960.1 2799.1 970.6 2799.7 973.9 2800.3 972.5 2802.2 961.3 2802.8 959.5 2803.5 959.6 2804.7 963.2 2805.4 964.1 2806.0 961.8 2806.6 954.7 2807.9 924.1 2809.1 874.7 2814.7 572.7 2816.6 523.4 2817.2 515.8 2817.9 511.3 2818.5 509.6 2819.1 517.2 2820.3 578.7 2824.7 1005.2 2825.9 1087.2 2826.5 1100.6 2827.1 1084.6 2827.7 1050.0 2830.0 891.6 2831.2 846.0 2831.8 834.6 2832.4 831.0 2833.0 835.7 2833.6 848.8 2835.9 950.3 2836.5 965.5 2837.1 965.0 2837.7 948.3 2839.5 868.1 2840.1 856.2 2840.6 859.7 2841.8 916.5 2843.6 1063.9 2844.2 1081.4 2844.8 1080.8 2846.0 1052.2 2847.2 1001.3 2850.9 789.6 2852.1 750.5 2852.7 746.8 2853.3 755.2 2854.5 809.2 2857.6 1095.9 2858.2 1144.9 2858.8 1158.2 2859.4 1130.7 2861.2 980.5 2862.4 916.7 2863.6 891.4 2864.2 887.9 2865.4 885.2 2866.6 880.5 2867.2 879.4 2867.8 881.6 2868.4 889.2 2869.6 925.6 2872.0 1060.8 2873.2 1106.5 2873.8 1108.3 2874.4 1103.4 2876.8 990.0 2878.0 956.9 2878.6 950.9 2879.2 949.3 2879.8 949.9 2881.0 954.7 2881.6 960.9 2882.8 991.7 2883.4 1019.1 2885.8 1173.5 2886.4 1192.8 2887.0 1178.5 2889.4 894.3 2890.6 792.6 2891.2 758.6 2892.4 717.6 2893.0 706.3 2894.1 693.3 2894.7 689.9 2895.3 688.3 2895.9 693.7 2898.3 771.5 2898.9 786.2 2899.5 792.0 2900.1 787.3 2900.7 772.2 2903.1 677.3 2903.7 668.8 2904.3 676.6 2905.6 729.3 2908.0 911.0 2908.7 937.6 2909.3 940.0 2910.5 871.7 2913.0 653.0 2914.3 592.3 2914.9 581.5 2916.0 631.1 2918.8 911.5 2919.9 975.4 2920.5 976.7 2922.2 922.3 2922.7 908.2 2923.3 901.6 2923.9 902.0 2925.0 912.2 2925.6 914.4 2926.1 911.5 2927.8 887.3 2928.4 885.5 2928.9 890.6 2930.6 926.2 2931.2 927.7 2932.3 890.6 2934.6 755.5 2935.1 736.3 2935.7 727.8 2936.2 730.1 2936.8 742.3 2939.6 870.2 2940.7 901.0 2941.3 906.4 2941.9 907.2 2943.0 903.8 2943.6 903.8 2944.1 906.7 2945.2 922.8 2948.1 984.4 2948.6 990.3 2949.2 992.2 2949.7 990.0 2950.9 975.4 2952.0 950.1 2953.1 912.8 2954.2 856.5 2957.1 663.5 2957.6 639.4 2958.2 628.3 2958.8 630.3 2959.4 636.6 2961.2 679.7 2965.4 870.5 2966.6 902.4 2967.2 904.8 2967.8 896.9 2968.4 879.6 2971.4 750.6 2972.7 726.0 2973.3 723.4 2973.9 726.7 2974.5 735.2 2977.5 805.3 2978.1 812.3 2978.7 812.2 2979.3 803.3 2980.5 755.7 2983.5 549.6 2984.1 525.2 2984.7 516.5 2985.3 530.5 2985.9 560.2 2988.7 764.6 2990.5 823.6 2991.0 833.8 2992.2 844.8 2992.8 845.6 2993.3 843.7 2995.1 833.6 2995.6 833.4 2996.8 842.4 3004.2 983.0 3004.8 988.7 3005.4 983.1 3006.0 960.6 3006.5 919.0 3009.4 609.0 3010.0 575.3 3010.6 564.0 3011.2 569.5 3012.3 609.6 3015.9 859.5 3017.1 914.0 3017.7 925.4 3018.3 927.6 3020.1 909.9 3020.7 906.7 3021.3 908.6 3022.4 929.8 3024.2 982.5 3024.8 992.8 3025.4 993.3 3026.6 959.1 3029.6 779.2 3030.8 739.0 3031.4 734.1 3032.0 738.8 3033.7 775.6 3034.3 779.1 3034.9 771.7 3035.5 753.9 3037.3 682.4 3037.9 670.3 3038.5 670.2 3039.1 689.3 3040.3 786.2 3043.3 1204.0 3043.9 1212.0 3044.5 1204.1 3045.1 1162.8 3047.4 938.1 3048.6 865.9 3049.2 847.4 3049.7 840.4 3050.3 843.2 3052.1 875.9 3052.6 879.2 3053.2 872.0 3056.1 740.2 3056.7 721.9 3057.3 713.6 3057.9 716.5 3059.0 756.8 3063.1 1089.0 3063.7 1115.7 3064.3 1123.7 3064.9 1112.0 3065.4 1057.0 3068.3 648.2 3069.5 547.2 3070.0 525.1 3070.6 524.2 3071.2 525.1 3071.8 535.0 3076.6 715.4 3078.9 764.4 3079.5 772.2 3080.1 775.1 3080.7 769.6 3081.3 752.5 3081.9 721.5 3084.9 454.2 3086.1 392.2 3086.7 388.0 3087.3 391.7 3087.9 405.0 3088.5 429.8 3091.5 673.5 3092.8 741.2 3093.4 754.0 3094.0 756.1 3095.2 750.4 3095.8 753.0 3097.0 782.5 3098.2 846.8 3101.9 1102.1 3102.5 1124.6 3104.3 1158.6 3106.2 1225.5 3108.5 972.3 3109.7 877.7 3110.8 817.6 3115.0 663.5 3116.1 635.9 3116.7 631.8 3117.3 638.5 3117.9 659.4 3119.1 741.7 3120.9 912.3 3121.5 951.6 3122.1 964.8 3122.7 947.7 3123.3 906.8 3125.7 686.3 3126.9 607.1 3128.1 561.9 3128.7 551.4 3129.3 548.0 3129.9 552.8 3130.4 566.8 3131.6 624.6 3135.0 941.3 3136.2 997.3 3136.8 1001.5 3137.3 993.4 3141.3 869.9 3144.2 827.8 3147.1 765.6 3147.7 759.2 3148.2 759.1 3148.8 766.1 3150.0 801.7 3152.8 937.6 3156.3 1024.4 3159.2 1175.5 3159.8 1156.1 3160.4 1111.2 3163.4 806.9 3164.6 740.4 3165.2 728.1 3165.8 729.5 3167.0 766.2 3170.6 948.3 3173.6 1016.4 3174.8 1063.0 3177.2 1250.4 3177.8 1249.4 3178.9 1225.8 3182.4 1085.2 3183.6 1057.3 3184.1 1056.0 3184.7 1063.8 3185.9 1094.6 3186.4 1102.5 3187.0 1077.2 3190.7 820.0 3192.5 746.0 3193.1 737.2 3193.8 737.8 3194.4 746.9 3196.8 825.2 3197.4 839.3 3198.0 846.0 3198.6 845.0 3199.2 837.6 3201.7 789.7 3202.3 783.1 3202.9 780.4 3203.5 781.3 3204.1 785.4 3207.2 824.0 3207.8 827.8 3208.4 826.1 3209.0 816.9 3210.2 772.0 3213.3 599.0 3213.9 580.7 3214.5 574.5 3215.1 577.5 3216.2 619.8 3220.4 924.0 3222.7 1052.5 3223.9 1101.0 3224.5 1106.4 3225.1 1093.3 3227.5 927.8 3228.7 871.9 3229.3 857.5 3229.9 851.9 3230.5 854.5 3233.0 893.6 3233.6 895.1 3235.4 876.9 3236.0 874.3 3236.6 878.7 3237.2 891.4 3237.8 912.6 3241.5 1125.8 3242.7 1178.2 3243.3 1186.3 3246.5 900.1 3247.2 860.8 3248.4 813.1 3249.1 803.4 3249.7 801.8 3250.4 807.1 3251.7 833.8 3255.5 951.5 3256.2 963.0 3256.8 968.4 3257.5 966.0 3258.8 936.6 3262.0 815.1 3264.6 769.1 3265.2 751.4 3268.4 602.9 3269.7 559.7 3270.4 552.2 3270.9 556.4 3271.5 573.3 3274.4 733.8 3275.0 745.3 3275.5 739.5 3276.7 680.1 3279.0 511.2 3279.6 488.5 3280.1 478.8 3280.7 484.1 3281.3 496.7 3281.9 516.9 3285.4 729.7 3286.6 772.2 3287.2 772.4 3287.8 757.7 3290.7 618.8 3291.3 611.5 3291.9 622.5 3293.1 684.8 3295.5 877.5 3296.1 903.7 3296.7 910.2 3297.3 898.7 3299.7 807.5 3300.3 799.5 3300.9 800.8 3302.1 824.4 3306.3 941.5 3306.9 950.8 3307.5 949.6 3308.1 935.6 3309.9 854.8 3311.1 822.9 3311.7 820.1 3312.9 827.8 3313.5 829.8 3314.1 826.7 3315.9 796.2 3316.5 789.6 3317.1 789.8 3318.3 815.1 3320.7 925.0 3321.9 955.8 3322.5 955.9 3324.3 927.4 3324.9 924.5 3325.5 930.9 3326.7 972.5 3328.5 1058.3 3329.1 1073.9 3330.9 1092.6 3331.5 1109.3 3333.3 1215.1 3333.9 1228.1 3340.0 511.9 3341.8 375.5 3342.4 356.5 3343.0 354.5 3343.6 357.2 3344.1 374.9 3345.3 466.3 3346.4 635.3 3348.7 1082.0 3349.3 1140.9 3349.9 1132.6 3353.0 849.0 3353.6 817.6 3354.8 783.7 3355.4 778.7 3356.0 780.8 3356.6 790.4 3357.9 835.5 3361.5 1132.4 3362.1 1160.9 3362.7 1165.9 3363.3 1144.1 3364.0 1083.7 3366.4 799.1 3367.0 752.8 3367.6 722.1 3368.2 706.8 3368.8 705.3 3369.4 714.8 3371.8 792.7 3373.0 815.8 3373.6 818.7 3374.2 816.4 3376.0 793.3 3376.6 787.5 3377.2 786.1 3377.8 790.2 3378.4 800.1 3380.2 842.5 3380.8 847.6 3381.4 841.4 3382.0 823.3 3384.4 705.5 3385.0 687.1 3385.6 679.3 3386.8 721.2 3388.5 835.6 3389.1 853.5 3389.7 847.5 3390.2 818.9 3392.6 646.0 3393.7 600.1 3394.3 589.9 3394.9 585.5 3396.1 583.4 3396.6 581.6 3399.0 560.7 3399.6 558.4 3400.2 560.3 3400.8 565.8 3401.5 575.2 3402.8 606.1 3407.2 795.8 3408.5 836.3 3409.1 847.7 3409.8 852.9 3410.4 853.0 3412.3 841.1 3413.0 839.3 3413.6 840.4 3416.2 860.9 3416.8 862.2 3417.4 858.8 3418.1 850.7 3420.0 812.5 3421.3 794.7 3421.9 791.3 3422.5 791.3 3423.8 794.2 3424.5 793.4 3425.1 789.2 3427.7 754.4 3428.3 752.9 3428.9 758.0 3429.6 769.7 3431.5 825.1 3432.8 848.7 3433.4 851.4 3434.0 849.0 3436.0 836.0 3436.6 835.9 3437.2 839.8 3437.9 847.8 3439.8 898.7 3442.3 1000.5 3443.0 1018.7 3443.6 1028.1 3444.3 1026.8 3444.9 1015.4 3448.1 913.3 3450.6 861.8 3452.6 835.4 3453.2 832.0 3453.8 832.7 3454.5 837.9 3456.4 880.6 3459.6 992.1 3460.9 1019.8 3462.8 1048.7 3463.4 1063.2 3466.0 1148.8 3466.6 1156.3 3467.2 1134.8 3469.6 926.3 3472.6 799.5 3473.8 722.3 3478.6 249.0 3479.8 200.2 3480.4 199.5 3481.0 203.8 3481.6 219.1 3482.7 276.0 3487.8 628.8 3488.9 729.9 3491.7 1062.2 3492.3 1053.9 3493.0 1017.6 3495.4 813.2 3496.6 757.8 3497.3 749.5 3497.9 754.6 3499.1 802.7 3502.2 1051.3 3503.4 1122.9 3504.0 1123.7 3504.6 1120.2 3505.2 1080.5 3508.2 769.9 3510.1 648.7 3511.3 617.3 3511.9 616.4 3512.5 621.2 3514.9 714.3 3515.5 729.6 3516.1 727.8 3517.4 661.7 3520.4 362.9 3521.0 333.8 3521.6 325.2 3522.3 336.5 3522.9 365.9 3526.5 666.2 3530.1 874.2 3533.2 1114.1 3533.8 1147.9 3534.4 1160.2 3535.0 1156.6 3535.6 1137.0 3538.0 1010.1 3539.2 966.4 3543.4 869.7 3544.1 861.3 3544.7 859.4 3545.3 865.8 3545.9 882.1 3547.1 946.8 3550.1 1203.6 3551.8 811.5 3552.9 622.4 3554.0 517.8 3554.6 493.5 3555.2 483.7 3555.8 491.7 3556.3 510.2 3556.9 539.4 3559.9 797.6 3560.5 839.4 3561.1 857.5 3561.6 845.2 3562.2 805.0 3564.6 565.5 3565.8 506.1 3566.3 504.7 3567.0 509.8 3567.6 529.4 3571.2 780.6 3572.4 842.2 3574.2 903.7 3574.9 913.1 3575.5 912.2 3576.1 899.0 3579.1 756.8 3579.7 745.1 3580.3 745.6 3581.5 782.5 3583.4 888.5 3584.0 916.5 3584.6 929.9 3585.2 925.4 3585.8 905.3 3588.2 788.4 3591.9 701.1 3597.3 422.1 3598.6 383.8 3599.2 377.6 3599.8 386.8 3600.4 417.1 3601.6 538.0 3605.2 1113.7 3605.8 1115.2 3608.1 859.2 3609.3 780.3 3609.8 757.8 3611.0 732.6 3612.7 712.8 3613.3 710.3 3613.9 711.9 3615.0 731.0 3617.3 811.3 3618.5 839.8 3619.1 846.9 3621.4 859.5 3622.5 872.7 3626.0 951.7 3626.6 958.8 3627.1 960.1 3628.9 946.5 3629.4 945.9 3630.0 951.6 3631.2 987.1 3631.7 1017.9 3634.0 1191.6 3634.6 1207.4 3635.2 1205.9 3638.9 871.0 3640.7 750.4 3641.3 732.2 3641.9 724.0 3642.6 723.2 3643.8 727.8 3644.4 725.7 3645.0 717.9 3647.4 657.8 3648.1 651.3 3648.7 656.3 3651.1 723.9 3651.7 733.0 3652.3 734.5 3652.9 729.0 3654.1 709.7 3654.8 704.2 3655.4 706.4 3656.0 718.8 3657.2 776.5 3659.0 896.9 3659.6 921.5 3660.2 929.4 3660.8 921.7 3663.3 851.0 3663.9 843.1 3664.5 841.0 3665.1 844.1 3665.7 851.9 3666.9 879.3 3668.2 920.3 3671.8 1102.6 3672.4 1126.2 3673.0 1137.1 3673.6 1126.3 3674.2 1071.4 3677.7 591.1 3678.9 510.1 3679.5 495.6 3680.0 516.4 3681.2 618.6 3684.6 1195.9 3685.2 1192.1 3688.2 878.3 3690.1 735.9 3691.3 673.8 3692.5 629.3 3693.7 596.8 3694.9 577.9 3695.5 576.6 3696.1 581.4 3696.7 596.6 3697.9 657.2 3702.0 1034.6 3703.2 1117.4 3703.8 1135.2 3704.3 1125.1 3704.9 1094.7 3707.3 915.0 3708.4 852.0 3709.0 836.8 3709.6 833.9 3710.2 842.9 3711.9 908.1 3712.5 924.0 3713.1 929.0 3713.7 923.4 3715.4 890.7 3716.0 888.5 3716.6 892.7 3718.3 920.3 3718.9 923.9 3719.5 920.1 3720.1 907.2 3721.8 814.7 3725.3 543.0 3726.5 491.4 3727.1 478.9 3727.7 474.6 3728.3 476.8 3728.9 492.8 3729.5 523.7 3730.7 626.9 3733.1 903.4 3733.7 949.2 3734.3 970.6 3734.9 968.0 3737.3 890.9 3737.9 886.9 3738.5 891.1 3739.7 906.0 3740.3 903.8 3741.5 860.5 3743.3 757.1 3743.9 736.3 3744.5 728.0 3745.1 732.5 3747.5 800.7 3748.1 798.7 3749.3 744.1 3751.7 560.2 3752.9 514.8 3753.5 513.1 3754.1 516.9 3754.7 527.3 3757.0 584.2 3759.3 626.9 3760.4 662.0 3765.0 939.0 3765.6 955.5 3766.7 974.8 3767.3 981.2 3767.9 983.8 3768.4 978.4 3769.6 930.5 3771.9 762.3 3773.0 705.3 3777.1 565.6 3778.2 539.1 3778.8 532.9 3779.4 530.5 3779.9 545.2 3781.0 642.6 3783.3 998.3 3783.9 1071.0 3784.4 1105.2 3785.0 1104.7 3785.6 1096.9 3786.2 1080.9 3788.7 988.9 3789.3 977.2 3789.9 974.3 3790.5 980.0 3794.7 1099.5 3796.5 1213.1 3797.1 1227.4 3798.3 1121.6 3799.5 1052.2 3800.1 1045.4 3800.7 1056.7 3803.0 1197.9 3803.6 1206.2 3804.2 1202.1 3804.8 1186.3 3806.5 1122.0 3807.7 1092.6 3808.2 1085.7 3808.8 1083.5 3809.4 1083.3 3810.0 1081.4 3810.6 1062.8 3812.4 887.4 3816.7 283.8 3817.9 191.1 3818.6 170.1 3819.2 167.4 3819.9 177.3 3820.7 207.0 3821.5 256.7 3823.0 408.6 3826.1 788.4 3826.9 853.9 3827.7 890.5 3828.5 897.9 3830.8 847.8 3831.6 839.4 3832.3 842.6 3833.1 857.8 3837.8 1058.4 3840.9 1150.5 3843.2 1243.5 3845.1 1089.2 3846.9 967.3 3848.8 879.2 3850.0 841.9 3850.6 831.9 3851.2 828.9 3851.9 833.4 3853.1 865.8 3856.8 1074.1 3857.4 1092.2 3858.0 1082.8 3858.6 1054.6 3861.7 827.2 3863.0 760.3 3864.2 726.6 3864.8 722.4 3865.4 725.4 3866.7 747.1 3868.5 800.1 3873.5 997.1 3874.1 1009.6 3874.7 1012.3 3875.3 1008.2 3875.9 998.4 3877.0 957.7 3881.1 664.1 3882.3 616.5 3882.8 606.4 3883.4 604.5 3884.0 617.1 3884.6 646.0 3887.7 864.6 3888.3 886.2 3888.9 897.4 3890.2 908.1 3891.4 935.7 3894.4 1100.0 3895.1 1112.9 3895.7 1100.7 3896.3 1065.8 3899.9 808.8 3901.1 768.2 3901.7 761.9 3902.3 764.1 3904.1 794.2 3904.7 798.9 3905.3 796.2 3907.1 763.1 3907.7 758.0 3908.3 763.0 3908.9 780.7 3910.1 858.5 3912.5 1101.8 3913.1 1111.4 3913.8 1102.3 3915.3 1057.0 3918.1 942.5 3921.7 775.4 3922.4 754.7 3923.2 745.0 3923.9 748.1 3924.6 764.5 3927.5 915.8 3928.2 947.1 3928.9 961.7 3929.6 957.7 3931.8 891.0 3932.5 873.2 3933.2 864.6 3933.9 866.3 3934.6 878.1 3936.8 947.7 3937.5 966.1 3938.2 972.3 3938.9 963.4 3941.8 860.2 3942.5 846.1 3943.2 843.7 3944.0 853.1 3946.1 921.6 3946.8 936.6 3947.5 934.7 3949.0 876.7 3951.1 748.7 3952.6 701.6 3953.3 694.0 3954.0 694.4 3956.1 708.7 3956.9 709.0 3958.3 704.0 3959.0 703.8 3959.7 708.7 3960.4 720.6 3961.2 739.9 3965.5 931.4 3966.2 950.8 3966.9 958.1 3967.6 950.9 3969.1 893.8 3973.4 576.5 3974.8 496.3 3975.5 467.6 3976.9 431.2 3977.7 421.6 3978.4 416.5 3979.1 415.3 3979.7 415.7 3980.3 420.3 3980.9 430.2 3984.5 549.5 3985.1 556.1 3985.8 553.7 3987.6 520.4 3988.2 515.1 3988.8 531.3 3990.0 626.8 3990.6 709.6 3993.0 1207.4 3993.6 1185.0 3994.8 1086.1 3996.0 1020.7 3996.6 1004.9 3997.2 999.1 3997.8 1000.9 3998.9 1014.6 3999.5 1018.0 4000.2 1014.9 4000.8 1004.0 4003.2 932.5 4006.9 797.2 4008.1 776.5 4008.7 776.6 4009.4 783.8 4010.6 817.1 4014.3 990.2 4015.5 1027.6 4016.1 1034.8 4016.7 1035.1 4017.3 1030.5 4019.2 1008.7 4020.4 989.0 4021.6 948.9 4024.1 840.4 4024.7 826.0 4025.3 820.0 4025.9 821.5 4027.1 839.5 4031.4 935.9 4032.0 942.4 4032.7 938.8 4033.9 892.7 4037.0 664.7 4038.2 594.3 4040.0 528.5 4040.6 517.2 4041.2 513.1 4041.9 516.5 4043.1 571.7 4046.7 905.8 4048.0 969.5 4048.6 983.8 4049.2 986.1 4049.8 976.1 4050.4 954.3 4052.9 807.0 4054.1 755.2 4054.7 745.2 4055.3 746.4 4055.9 757.2 4058.4 830.6 4059.0 838.1 4059.6 836.5 4060.8 806.7 4063.9 666.6 4065.1 635.1 4065.7 633.9 4066.3 641.4 4067.5 691.0 4069.9 868.5 4071.1 922.0 4071.7 921.2 4072.3 903.2 4074.1 809.8 4075.3 763.9 4075.9 752.6 4076.5 750.3 4077.1 757.7 4077.8 775.3 4080.2 923.1 4080.8 953.0 4081.4 961.1 4082.0 942.9 4084.4 778.4 4085.0 760.5 4085.6 761.7 4086.2 782.8 4087.4 881.2 4089.8 1184.4 4092.6 703.8 4093.8 602.1 4094.3 582.9 4094.9 588.7 4096.1 622.3 4100.8 902.4 4102.0 946.4 4102.6 957.5 4103.2 960.7 4103.8 956.7 4105.5 913.6 4109.1 788.9 4112.0 643.5 4112.6 624.2 4113.2 615.0 4114.4 646.4 4116.9 757.8 4118.2 789.1 4118.8 794.6 4119.5 794.1 4120.1 789.1 4122.6 756.3 4123.2 753.4 4123.8 755.5 4125.1 777.2 4128.2 887.4 4129.5 914.1 4130.1 920.1 4132.0 927.1 4132.6 930.8 4134.5 945.4 4135.1 946.8 4135.8 944.1 4137.0 923.9 4139.5 857.8 4140.2 849.6 4140.8 849.7 4141.4 859.6 4142.0 879.5 4143.9 956.1 4144.6 950.5 4145.8 833.7 4148.3 433.3 4149.6 312.4 4150.2 293.1 4150.8 301.7 4151.3 331.8 4152.5 455.9 4155.3 1009.0 4155.9 1068.0 4156.5 1054.2 4157.1 1022.0 4158.9 905.2 4160.1 863.2 4160.7 859.0 4161.3 866.1 4161.9 883.5 4164.8 1035.8 4166.0 1068.6 4166.6 1071.8 4167.2 1065.2 4169.0 1014.5 4170.2 989.8 4170.8 984.1 4172.6 978.2 4173.2 974.2 4175.0 946.9 4176.2 913.3 4178.6 819.5 4179.2 803.4 4179.8 795.5 4180.4 797.1 4181.0 808.4 4184.0 940.0 4184.6 959.1 4185.2 968.5 4185.8 968.0 4188.1 929.0 4188.7 929.6 4189.3 939.2 4190.5 984.1 4192.3 1076.0 4192.9 1096.7 4193.5 1106.4 4194.1 1060.0 4196.6 721.8 4197.8 627.2 4198.4 609.4 4199.0 610.1 4200.2 640.1 4204.0 787.1 4205.8 825.6 4207.7 845.9 4208.3 847.0 4208.9 843.4 4210.2 818.3 4213.3 694.9 4214.5 662.6 4215.1 656.2 4215.8 664.8 4217.0 703.3 4220.6 889.8 4221.2 908.2 4221.8 914.6 4222.4 907.5 4223.6 855.3 4226.6 646.1 4227.8 605.5 4228.4 603.1 4229.0 608.8 4229.6 632.1 4232.0 840.1 4233.1 912.9 4233.7 918.0 4236.1 856.1 4236.7 850.3 4237.3 851.5 4237.9 858.2 4240.2 907.7 4242.0 954.8 4245.5 1105.1 4246.7 1140.8 4247.3 1142.9 4247.9 1141.7 4248.5 1128.0 4252.8 934.4 4254.0 894.3 4254.7 882.7 4255.3 878.3 4255.9 881.6 4256.5 892.5 4259.0 977.2 4259.6 989.2 4260.2 988.9 4260.8 976.2 4263.2 881.4 4264.5 850.9 4265.7 834.2 4267.5 821.2 4268.1 819.6 4268.8 820.2 4269.4 823.9 4270.0 831.7 4271.2 865.1 4272.4 929.1 4275.5 1197.5 4276.1 1223.5 4276.7 1189.2 4279.7 819.0 4280.9 737.6 4281.5 722.5 4282.1 726.0 4282.7 748.5 4283.9 846.1 4286.3 1181.6 4286.9 1226.6 4287.4 1196.6 4290.3 828.0 4291.4 739.9 4292.0 717.7 4292.6 711.7 4293.2 721.8 4294.3 785.8 4296.0 916.6 4296.6 927.0 4297.2 902.7 4297.7 847.8 4300.0 563.0 4301.2 495.8 4301.7 494.2 4302.3 495.7 4302.9 513.3 4303.5 547.4 4305.8 778.3 4306.3 818.3 4306.9 830.4 4307.5 813.4 4309.2 685.1 4310.4 624.6 4311.0 610.9 4311.5 605.9 4312.1 617.7 4314.6 727.7 4315.2 744.5 4317.1 778.3 4317.7 804.5 4319.0 902.6 4320.8 1108.3 4321.4 1127.5 4322.0 1125.8 4324.3 1090.5 4324.9 1089.3 4326.6 1107.1 4327.2 1108.3 4327.8 1092.4 4329.1 1021.3 4332.3 785.9 4333.6 728.9 4334.3 717.2 4334.9 717.2 4335.6 727.6 4338.8 832.6 4339.4 844.8 4340.1 852.2 4340.7 855.9 4341.3 856.9 4342.0 855.5 4343.3 843.1 4347.1 743.6 4347.8 736.5 4348.4 737.2 4349.1 746.1 4350.4 786.6 4352.3 887.4 4354.2 1025.6 4356.1 1202.8 4356.8 1235.8 4359.1 1139.5 4359.7 1127.4 4360.2 1121.8 4361.4 1118.4 4362.0 1114.4 4362.5 1105.9 4364.3 1062.9 4364.8 1051.4 4365.4 1045.9" stroke="#1f77b4"/>
<path d="M2570.5 735.5 2571.1 737.3 2571.7 745.4 2572.8 780.5 2576.4 964.6 2577.5 1010.8 2578.7 1039.6 2579.9 1053.5 2580.5 1056.2 2581.0 1056.4 2581.7 1052.1 2582.3 1030.2 2584.1 913.3 2585.3 856.4 2586.0 840.9 2588.4 802.3 2590.9 737.6 2591.5 730.0 2592.1 728.5 2592.7 732.6 2595.2 764.1 2597.0 772.7 2597.6 777.6 2600.7 831.1 2601.3 836.6 2601.9 838.7 2603.2 839.6 2603.8 842.9 2604.4 849.8 2606.9 901.3 2608.1 919.1 2608.7 921.5 2609.3 919.2 2610.5 903.2 2612.4 871.1 2613.0 864.4 2613.6 861.4 2614.2 862.4 2616.1 878.0 2616.7 882.0 2617.3 883.3 2617.9 882.0 2618.5 878.7 2621.0 861.3 2621.6 859.1 2622.2 859.1 2622.8 862.5 2623.5 870.2 2624.7 900.0 2628.4 1035.2 2629.0 1047.9 2629.6 1055.8 2630.2 1059.1 2630.8 1056.9 2631.4 1046.6 2632.0 1027.8 2633.7 942.2 2634.9 902.4 2635.4 896.9 2636.0 900.5 2637.2 919.6 2637.8 922.3 2638.3 912.4 2639.5 852.5 2642.4 653.9 2644.1 585.9 2645.3 567.5 2645.9 579.8 2647.1 650.9 2649.5 891.7 2650.1 927.8 2650.7 937.4 2653.1 860.8 2653.7 861.7 2654.3 879.8 2655.5 964.0 2657.3 1142.1 2657.9 1171.7 2658.5 1166.2 2659.1 1154.3 2660.2 1103.8 2663.8 798.8 2665.0 751.7 2665.6 751.8 2666.7 797.5 2670.9 1120.6 2672.6 1211.6 2673.2 1218.9 2673.8 1213.5 2674.4 1172.6 2679.1 747.1 2680.3 694.6 2680.9 686.3 2681.5 700.3 2683.3 783.0 2683.8 800.6 2684.4 803.8 2685.0 792.4 2687.3 706.3 2687.9 701.8 2688.5 709.9 2689.7 762.7 2692.6 1006.0 2693.8 1069.0 2694.4 1077.6 2695.0 1074.1 2696.7 1033.9 2697.3 1027.3 2697.9 1028.4 2698.5 1037.3 2700.3 1083.1 2700.9 1088.3 2701.5 1080.8 2702.1 1061.9 2704.9 886.9 2706.1 846.6 2706.7 841.1 2707.3 844.8 2709.0 880.7 2709.6 886.4 2710.2 882.9 2713.1 787.3 2713.6 777.8 2714.2 777.0 2715.4 800.1 2717.1 864.6 2718.3 892.0 2718.9 894.7 2719.4 889.9 2721.7 827.7 2722.3 814.7 2722.9 809.0 2723.5 812.6 2724.1 825.9 2725.8 887.2 2726.4 893.4 2727.0 884.5 2728.7 812.5 2729.3 795.3 2729.9 787.5 2730.4 788.7 2732.2 811.7 2732.8 813.4 2733.3 808.9 2733.9 798.7 2736.2 725.8 2739.1 600.9 2739.7 585.1 2740.3 578.0 2740.9 595.3 2742.1 678.2 2745.2 973.4 2745.8 993.4 2746.5 990.4 2748.9 893.6 2752.0 793.8 2755.1 623.5 2755.7 600.8 2756.3 589.9 2757.0 590.0 2757.6 600.5 2758.2 621.3 2760.7 753.0 2761.3 775.7 2761.9 787.2 2762.5 787.5 2763.1 779.1 2765.6 725.7 2766.2 719.8 2766.9 719.8 2767.5 726.2 2768.1 738.8 2770.6 819.8 2771.2 834.9 2771.8 842.6 2772.4 841.2 2773.0 830.9 2776.8 682.4 2777.4 667.3 2778.0 661.8 2778.6 665.3 2779.2 676.0 2782.2 760.1 2782.8 768.6 2783.4 771.5 2784.0 768.7 2784.6 761.3 2787.6 709.5 2788.2 706.0 2788.8 707.1 2789.4 713.3 2790.6 743.9 2791.8 804.4 2794.8 1060.4 2795.4 1077.6 2796.0 1075.2 2797.2 1030.4 2800.7 778.8 2801.3 754.8 2801.9 744.3 2802.5 748.7 2803.1 768.8 2804.3 855.0 2807.3 1230.5 2809.7 1035.9 2810.9 974.8 2812.2 950.8 2814.0 942.7 2815.2 920.4 2818.2 783.6 2819.4 741.6 2820.0 730.8 2820.6 727.5 2821.3 731.0 2821.9 740.5 2826.7 883.8 2829.7 951.1 2830.4 960.7 2831.0 964.7 2831.6 961.3 2832.2 949.4 2833.4 902.6 2837.6 660.7 2838.8 621.0 2839.5 612.9 2840.6 673.0 2842.4 852.5 2843.0 900.4 2843.6 922.1 2844.2 912.1 2844.8 876.8 2846.6 743.7 2847.2 719.3 2847.8 712.1 2848.4 723.3 2849.6 796.8 2852.6 1124.3 2853.8 1215.1 2854.4 1197.3 2857.5 1012.4 2859.3 943.8 2860.5 925.4 2861.2 924.8 2861.8 930.1 2863.0 958.8 2865.5 1048.6 2866.1 1051.8 2866.7 1035.6 2869.2 883.2 2870.4 834.8 2876.0 728.2 2877.2 710.8 2877.8 707.7 2878.5 709.9 2879.1 718.4 2879.7 733.6 2882.8 870.7 2883.4 891.3 2884.0 903.1 2884.6 906.4 2886.5 896.4 2887.1 897.2 2889.0 914.0 2889.6 914.0 2890.2 906.0 2890.8 890.2 2892.7 828.2 2893.3 815.3 2893.9 809.9 2894.6 812.0 2895.2 820.4 2898.3 899.3 2898.9 909.4 2899.5 911.6 2900.1 903.8 2900.7 886.9 2902.6 826.8 2903.2 822.8 2903.8 834.1 2904.5 862.2 2906.9 1083.2 2907.6 1105.2 2908.2 1101.2 2909.4 1072.5 2911.8 954.3 2913.0 913.8 2913.6 906.9 2914.2 909.1 2916.1 939.6 2916.7 940.2 2917.3 926.9 2918.5 852.8 2922.1 476.6 2923.3 404.1 2924.0 391.5 2924.5 403.2 2925.7 509.1 2929.1 1194.7 2931.5 925.1 2932.7 847.5 2935.1 784.5 2938.7 617.2 2939.9 589.4 2942.9 544.3 2946.5 438.3 2947.1 428.3 2947.7 425.8 2948.3 426.0 2948.9 438.1 2951.9 566.0 2953.1 604.0 2954.3 624.6 2956.7 641.9 2957.9 664.4 2962.1 837.3 2963.3 862.6 2966.9 905.5 2967.5 909.1 2968.1 909.6 2968.7 906.4 2970.4 879.3 2972.2 829.7 2975.2 724.0 2976.4 701.6 2977.0 700.2 2977.6 705.6 2979.4 737.2 2980.0 744.5 2980.6 747.3 2981.2 745.3 2981.8 738.8 2984.2 696.1 2984.8 692.4 2985.5 696.5 2986.1 710.0 2987.3 768.2 2990.9 1076.7 2991.5 1111.6 2992.1 1127.5 2992.7 1127.2 2995.2 1120.4 2996.4 1110.6 2997.6 1086.2 3000.7 997.9 3002.0 981.1 3002.6 978.8 3003.2 978.4 3003.8 977.1 3004.5 971.0 3005.7 935.9 3008.8 792.6 3009.4 777.5 3010.0 770.6 3010.6 771.4 3011.3 779.4 3012.5 811.0 3017.5 968.5 3019.3 1053.0 3021.2 1171.4 3021.8 1199.8 3022.4 1201.3 3029.0 933.8 3030.2 910.2 3030.8 908.9 3032.7 922.8 3033.3 918.5 3033.9 902.6 3035.1 834.9 3038.1 604.1 3039.3 551.1 3039.9 541.7 3040.5 549.0 3041.7 590.9 3045.4 788.4 3049.7 1145.9 3050.3 1140.7 3050.9 1107.8 3053.3 889.4 3054.5 834.7 3055.1 831.8 3055.7 844.3 3058.0 967.2 3058.6 986.7 3059.2 990.0 3060.4 949.1 3062.8 818.7 3063.4 802.5 3064.0 797.9 3064.6 806.1 3065.8 859.5 3069.4 1149.9 3070.0 1178.4 3070.6 1191.5 3071.2 1192.8 3071.8 1184.9 3072.4 1136.1 3075.3 774.9 3076.5 665.5 3077.7 609.7 3078.3 604.5 3078.9 606.0 3080.1 639.8 3081.3 720.1 3082.4 845.8 3084.8 1175.5 3085.4 1194.7 3086.0 1179.9 3087.9 1089.6 3089.7 1017.2 3092.8 825.6 3093.4 799.3 3094.1 786.9 3094.7 790.2 3095.9 846.5 3099.0 1180.3 3099.6 1192.8 3100.8 1164.0 3102.0 1113.6 3105.7 858.9 3106.9 799.0 3108.1 765.3 3111.7 698.3 3112.3 694.0 3112.9 695.3 3113.5 702.7 3114.8 734.4 3116.6 812.0 3119.0 939.3 3119.6 959.3 3120.2 963.3 3120.8 947.6 3121.4 914.4 3123.8 737.1 3125.0 686.9 3125.6 675.2 3126.3 669.6 3129.3 660.4 3129.9 664.3 3131.1 711.5 3133.5 907.4 3134.1 938.5 3134.7 943.0 3135.9 871.9 3139.5 510.3 3140.7 436.7 3141.3 416.7 3141.9 409.0 3143.1 430.0 3144.3 467.4 3146.1 530.1 3147.3 587.5 3148.5 677.2 3151.6 975.3 3152.2 1011.6 3152.8 1030.4 3153.4 1033.4 3154.0 1032.0 3155.2 1021.7 3156.4 1002.6 3157.0 987.2 3158.7 911.9 3161.7 748.1 3162.9 715.6 3163.5 716.1 3164.6 756.4 3167.0 921.2 3167.6 940.6 3168.2 936.0 3168.8 909.9 3171.2 756.8 3171.8 736.9 3172.3 729.8 3172.9 735.5 3173.5 752.4 3175.3 835.0 3176.5 869.7 3177.1 873.4 3177.7 871.0 3179.4 856.2 3180.0 846.4 3181.2 792.6 3184.8 468.0 3185.4 440.7 3186.0 426.2 3186.5 423.0 3187.2 434.8 3188.4 499.9 3192.0 864.9 3193.8 989.5 3194.4 1005.7 3195.0 1012.1 3195.6 1013.1 3196.2 1013.0 3196.8 1014.6 3198.0 1028.1 3201.0 1100.6 3203.4 1146.2 3205.3 1192.0 3206.4 1145.7 3210.4 871.5 3211.5 834.2 3212.1 828.6 3212.7 826.6 3213.2 821.9 3213.8 807.7 3214.9 739.0 3217.8 502.5 3218.9 458.2 3219.5 449.1 3220.1 446.7 3220.7 453.3 3221.3 469.2 3221.9 495.8 3226.1 845.2 3227.3 901.1 3228.5 929.0 3229.7 945.2 3230.3 948.0 3230.9 945.1 3232.1 920.2 3233.9 866.3 3234.5 854.9 3235.1 849.6 3235.7 850.4 3236.3 856.3 3239.3 906.6 3240.5 915.5 3241.1 916.0 3241.7 913.4 3242.9 897.7 3245.3 850.1 3245.9 843.8 3246.5 842.3 3247.1 846.2 3247.7 855.9 3248.9 893.9 3251.9 1057.6 3252.5 1061.4 3253.1 1061.2 3255.6 944.8 3256.2 925.1 3256.9 915.2 3257.5 915.7 3258.7 945.3 3260.0 1010.3 3262.5 1251.2 3263.1 1239.1 3263.7 1212.2 3268.0 924.8 3269.3 862.7 3269.9 846.5 3270.5 842.5 3271.1 851.2 3274.2 1001.2 3274.8 1014.2 3275.4 1006.8 3278.4 675.3 3279.5 601.4 3280.1 597.6 3280.7 598.3 3281.3 612.7 3282.5 678.8 3284.3 816.6 3285.5 874.0 3286.1 881.7 3286.7 876.4 3287.3 861.0 3288.5 809.2 3289.7 735.8 3294.4 338.5 3295.6 292.1 3296.2 288.2 3296.8 289.6 3297.3 299.5 3299.6 354.4 3301.3 372.3 3301.9 384.0 3303.1 435.2 3304.2 534.7 3305.4 681.2 3308.8 1229.1 3309.4 1237.0 3310.0 1234.5 3311.2 1172.0 3315.3 742.0 3316.5 671.8 3317.1 661.8 3317.8 674.6 3318.4 701.6 3321.5 889.3 3324.0 950.2 3325.2 994.3 3325.8 1007.4 3326.5 997.8 3327.7 888.5 3332.0 256.8 3333.3 176.5 3333.9 171.5 3334.5 179.7 3335.1 201.5 3336.3 287.2 3339.9 751.7 3341.1 867.2 3341.7 893.0 3342.2 896.0 3342.8 880.8 3347.6 638.9 3351.2 532.8 3353.6 448.1 3354.2 441.8 3354.7 447.8 3355.3 464.6 3358.8 630.4 3360.0 671.5 3360.6 684.5 3361.1 690.5 3361.7 688.1 3362.9 658.4 3366.4 503.9 3367.5 477.0 3368.1 473.2 3368.7 474.9 3369.4 493.7 3370.6 581.5 3373.7 916.4 3374.3 949.8 3374.9 963.7 3376.2 971.3 3376.8 986.0 3377.4 1016.7 3379.3 1193.6 3379.9 1162.6 3382.4 911.4 3383.6 834.5 3384.9 794.3 3385.5 787.0 3386.1 788.1 3386.7 797.8 3388.0 844.7 3389.2 928.5 3391.7 1151.1 3392.3 1171.7 3392.9 1167.3 3393.5 1139.8 3395.3 1024.6 3396.5 967.9 3397.0 950.4 3398.8 923.9 3400.0 895.3 3403.0 772.5 3403.5 759.4 3404.1 751.6 3405.9 736.6 3406.5 725.9 3408.9 653.1 3409.4 639.2 3410.0 632.5 3410.6 639.3 3411.2 653.5 3416.5 850.4 3420.1 1076.8 3420.7 1102.1 3421.9 1130.6 3422.5 1138.9 3423.1 1142.9 3423.6 1134.4 3426.0 1005.9 3427.2 970.9 3427.8 966.5 3428.4 970.1 3429.0 979.8 3431.9 1045.3 3433.1 1056.6 3434.9 1064.8 3435.5 1069.6 3437.8 1100.3 3438.4 1103.7 3440.8 1064.2 3443.2 1041.0 3443.8 1032.2 3445.0 1003.2 3446.8 940.0 3447.9 909.2 3448.5 904.0 3449.1 907.3 3450.9 951.5 3451.5 956.9 3452.1 940.6 3453.3 829.8 3455.7 507.2 3456.9 415.6 3457.5 402.0 3458.1 402.2 3459.3 422.7 3461.7 524.6 3466.6 796.7 3470.3 1082.9 3471.5 1142.4 3472.1 1146.7 3472.7 1143.8 3473.4 1109.7 3475.8 876.6 3477.7 766.2 3478.3 753.8 3478.9 753.8 3479.5 765.6 3482.0 885.9 3482.6 910.4 3483.2 917.5 3483.8 902.8 3484.4 868.6 3486.9 705.3 3487.5 688.9 3488.1 686.3 3488.7 698.5 3489.4 732.3 3491.9 1007.0 3492.5 1041.1 3493.1 1038.9 3494.3 1022.0 3498.0 908.3 3498.6 894.7 3499.2 888.2 3499.8 890.6 3501.0 924.4 3503.4 1062.4 3504.0 1077.6 3504.6 1070.5 3505.2 1040.1 3507.7 846.8 3509.5 754.8 3510.1 742.5 3510.7 739.9 3511.3 747.0 3512.5 787.6 3515.0 903.3 3515.6 914.6 3516.2 912.7 3516.8 899.0 3519.3 810.1 3520.5 781.1 3521.7 765.9 3524.1 743.3 3526.6 704.2 3527.2 697.0 3529.0 682.6 3530.2 661.9 3531.4 615.0 3534.5 436.8 3535.7 399.2 3536.3 396.4 3536.9 398.8 3538.1 442.6 3542.3 785.4 3543.5 851.3 3545.3 921.5 3545.9 936.5 3546.5 943.2 3547.1 939.4 3550.1 838.6 3550.7 829.1 3551.3 828.9 3551.9 838.0 3553.1 878.3 3559.7 1174.9 3560.9 1207.4 3561.5 1177.8 3564.5 939.2 3567.0 795.6 3568.2 748.9 3568.8 742.5 3569.4 751.7 3570.6 821.8 3573.7 1168.2 3574.3 1205.1 3574.9 1139.6 3578.5 341.9 3579.7 196.1 3580.3 164.6 3580.9 165.8 3581.5 187.2 3582.7 295.1 3586.8 1083.5 3587.4 1134.4 3590.4 945.0 3591.7 891.7 3592.9 863.7 3593.5 858.3 3594.1 857.8 3595.3 864.3 3595.9 865.1 3596.5 858.7 3597.2 841.0 3598.4 765.3 3600.8 539.8 3602.0 469.7 3602.7 459.3 3603.2 469.2 3603.8 490.6 3605.0 571.8 3608.5 1036.1 3609.1 1090.8 3609.7 1102.5 3610.2 1095.3 3610.8 1060.4 3613.1 855.2 3614.3 785.6 3614.8 768.1 3615.4 763.7 3616.0 773.4 3617.1 835.8 3620.0 1132.1 3620.6 1118.5 3621.2 1083.5 3623.6 897.9 3624.9 848.3 3625.5 842.3 3626.1 848.4 3626.7 864.8 3630.3 1035.7 3631.5 1070.5 3632.1 1078.2 3632.7 1079.5 3633.3 1070.4 3633.9 1045.7 3635.7 935.6 3636.9 893.0 3637.5 889.4 3638.1 896.9 3640.4 967.7 3641.0 970.6 3641.6 960.0 3642.8 904.3 3645.8 722.9 3647.0 681.4 3647.6 670.8 3648.2 666.1 3648.8 665.3 3649.4 669.1 3650.0 677.0 3652.0 708.2 3655.2 750.9 3658.4 838.4 3659.7 860.9 3660.3 861.7 3661.0 855.8 3663.6 809.9 3664.2 805.9 3664.9 808.6 3666.1 836.3 3668.7 946.8 3669.4 965.5 3670.0 970.7 3670.7 960.3 3671.3 936.5 3673.9 816.0 3674.5 801.4 3675.2 796.9 3675.8 802.4 3679.0 893.3 3679.7 901.7 3680.3 903.3 3681.6 896.7 3682.2 896.4 3682.9 902.4 3684.2 938.9 3686.1 1024.9 3686.7 1041.0 3687.4 1041.1 3688.0 1024.7 3690.6 906.9 3691.3 888.2 3693.2 859.0 3693.8 843.3 3695.1 779.5 3697.1 647.0 3697.7 617.7 3698.3 604.5 3698.9 610.9 3700.1 671.3 3702.4 900.6 3703.0 946.3 3704.2 994.1 3704.8 1000.4 3705.4 1000.1 3705.9 996.0 3708.9 948.5 3709.4 942.1 3710.0 940.3 3710.6 944.2 3711.8 969.4 3714.1 1053.1 3714.7 1067.1 3715.3 1073.0 3715.9 1056.6 3718.9 912.8 3720.7 865.7 3721.3 858.2 3721.9 855.4 3722.5 857.2 3724.3 878.6 3724.9 883.5 3725.5 883.3 3726.1 876.4 3726.7 862.4 3727.9 816.6 3731.5 641.5 3732.7 607.8 3733.3 601.1 3733.8 607.4 3734.4 627.6 3736.8 774.7 3738.0 825.8 3738.5 835.2 3739.1 835.4 3740.3 824.5 3740.9 821.6 3741.5 824.1 3742.6 850.6 3744.4 938.1 3747.9 1168.8 3748.5 1196.7 3749.1 1204.3 3749.7 1201.3 3752.1 1110.6 3753.9 1085.3 3755.1 1043.4 3758.1 787.4 3759.3 710.3 3759.9 689.7 3760.5 682.8 3761.0 716.9 3763.3 1084.5 3763.9 1062.8 3766.3 910.1 3767.6 869.2 3768.2 865.3 3768.8 872.4 3770.6 931.7 3771.2 941.8 3771.8 932.5 3773.0 851.3 3775.4 631.1 3776.7 582.2 3777.3 579.4 3777.9 582.5 3778.5 598.7 3781.5 777.8 3782.8 810.2 3784.0 818.8 3785.2 843.5 3787.0 924.7 3787.6 947.4 3788.3 957.9 3788.9 952.8 3790.1 901.4 3795.0 541.6 3796.2 498.0 3796.8 495.6 3797.4 510.7 3798.7 590.0 3801.8 940.6 3803.0 1026.3 3803.6 1037.2 3804.2 1037.0 3804.8 1034.5 3806.0 1025.3 3807.7 997.8 3810.1 941.4 3810.7 936.3 3811.2 939.9 3812.4 975.9 3814.7 1093.6 3815.9 1122.5 3817.1 1134.4 3817.7 1122.2 3818.3 1084.5 3820.7 875.1 3821.3 846.6 3821.9 835.8 3822.5 843.2 3823.1 867.4 3826.8 1121.9 3828.0 1156.8 3828.6 1162.1 3829.8 1105.0 3833.4 770.8 3834.6 717.0 3835.2 715.5 3835.8 730.7 3837.5 833.3 3838.1 857.9 3838.7 861.0 3839.3 839.4 3841.7 661.2 3842.3 635.5 3842.9 626.9 3843.5 635.6 3844.0 658.5 3845.2 748.6 3848.0 1142.7 3848.6 1150.6 3849.2 1135.5 3849.8 1095.6 3852.7 814.9 3853.3 787.7 3853.9 779.5 3854.5 791.1 3855.0 821.3 3857.4 1030.0 3858.0 1060.8 3858.6 1064.1 3859.2 1038.3 3861.6 725.8 3862.8 625.3 3864.0 574.3 3868.8 478.3 3869.4 471.8 3870.1 482.5 3870.7 513.2 3873.1 776.3 3873.7 829.6 3874.3 844.9 3874.9 814.9 3877.3 537.8 3877.9 496.9 3878.5 478.8 3879.1 483.1 3879.7 493.1 3880.9 537.0 3883.9 769.8 3885.1 837.7 3885.7 845.7 3886.3 835.7 3888.8 733.4 3889.4 720.7 3890.0 719.2 3891.2 748.1 3893.0 829.2 3894.2 865.3 3894.8 871.3 3895.4 869.9 3897.8 836.7 3898.4 832.9 3899.0 834.5 3899.6 843.1 3900.2 859.6 3901.4 917.5 3905.0 1186.0 3905.6 1208.6 3906.2 1211.2 3906.8 1195.4 3910.4 740.0 3911.0 693.9 3912.2 637.9 3912.8 626.1 3913.4 623.4 3914.0 623.2 3916.4 654.4 3918.8 672.5 3919.4 681.1 3920.6 713.1 3924.2 869.8 3924.8 882.5 3925.4 887.4 3926.0 885.3 3927.2 866.3 3931.9 750.7 3933.7 672.7 3936.1 526.9 3937.3 482.4 3937.9 476.7 3938.5 481.1 3939.1 495.9 3941.4 586.5 3942.0 601.3 3944.4 637.3 3945.6 677.6 3946.8 747.6 3950.3 1033.3 3950.9 1063.1 3951.5 1076.8 3952.1 1075.5 3956.3 941.5 3957.5 866.6 3960.5 602.0 3961.7 535.2 3962.3 520.7 3965.4 541.7 3966.6 546.9 3968.4 552.7 3969.0 556.5 3970.8 579.8 3972.0 608.6 3973.8 678.6 3976.8 839.3 3979.8 934.8 3981.7 1029.5 3982.3 1046.8 3982.9 1044.5 3984.8 932.6 3985.4 910.3 3986.0 906.0 3986.7 920.1 3988.5 1024.1 3989.2 1037.2 3989.8 1020.0 3991.0 927.6 3994.1 630.5 3996.0 535.4 3996.6 521.5 3997.3 515.1 3997.9 518.5 3999.8 561.9 4000.5 573.0 4001.1 574.5 4001.7 564.4 4004.3 479.8 4004.9 476.7 4005.5 476.7 4006.1 486.6 4007.3 535.3 4010.2 735.9 4011.3 797.5 4012.5 836.7 4014.8 881.0 4016.0 894.9 4016.6 897.8 4017.1 896.6 4018.3 882.6 4020.0 851.3 4020.6 846.6 4021.2 848.1 4022.4 873.3 4024.7 978.2 4025.3 995.3 4025.9 999.0 4026.4 986.7 4027.0 959.4 4029.9 765.2 4030.5 747.5 4031.1 743.9 4031.7 755.0 4032.3 780.0 4035.2 984.8 4035.7 995.1 4036.3 982.6 4038.7 850.3 4039.2 831.1 4039.8 823.2 4040.4 826.2 4041.6 855.4 4043.3 922.8 4046.2 1097.2 4046.8 1108.3 4048.5 1079.2 4049.1 1075.0 4049.7 1078.9 4050.8 1102.1 4051.4 1106.4 4052.0 1097.3 4056.3 802.6 4058.2 729.0 4058.8 717.9 4059.4 713.5 4060.0 715.2 4061.3 731.6 4068.0 865.0 4068.7 869.7 4069.3 869.3 4069.9 863.7 4072.3 825.7 4073.0 824.2 4073.6 829.0 4075.4 874.4 4079.7 1029.2 4080.4 1049.6 4081.0 1059.1 4082.1 976.0 4085.6 589.8 4086.8 527.0 4087.3 516.5 4087.9 517.8 4088.6 531.0 4089.8 584.5 4092.8 773.0 4094.6 904.7 4097.7 1188.4 4098.3 1192.0 4099.4 1090.7 4101.8 802.6 4102.9 716.6 4103.5 694.3 4104.1 684.2 4104.7 687.2 4105.3 699.3 4106.5 750.2 4109.5 973.5 4110.1 997.0 4110.7 995.8 4111.3 971.5 4113.6 813.5 4114.8 766.6 4115.4 755.3 4116.0 751.7 4116.6 755.2 4117.2 765.5 4118.4 803.2 4120.2 893.0 4123.8 1153.6 4124.4 1165.1 4125.1 1164.0 4125.7 1150.0 4127.1 1088.2 4130.4 875.5 4131.7 808.0 4133.1 768.0 4133.7 762.0 4134.4 766.8 4135.1 783.0 4137.7 927.5 4138.4 955.3 4139.1 962.3 4139.7 945.8 4142.4 802.0 4143.1 782.1 4143.7 772.3 4144.4 770.2 4145.7 774.7 4146.4 775.4 4147.1 773.1 4149.1 760.4 4149.7 760.4 4150.4 765.6 4151.7 795.8 4153.7 879.6 4154.4 903.5 4155.1 915.3 4155.7 911.6 4158.4 820.8 4159.1 810.2 4159.7 811.2 4160.4 823.1 4162.4 884.6 4163.1 893.2 4163.7 885.0 4165.1 810.6 4167.8 561.8 4169.1 492.2 4169.8 487.2 4170.3 495.7 4170.9 516.7 4173.9 710.5 4174.5 730.9 4175.1 738.9 4176.3 740.6 4176.9 748.5 4177.5 768.1 4180.4 969.0 4181.0 975.8 4181.6 960.8 4183.4 888.7 4184.0 884.9 4184.6 897.9 4185.8 973.7 4187.6 1147.3 4188.1 1162.8 4188.8 1159.3 4189.4 1124.4 4191.8 927.2 4193.0 857.4 4194.8 797.5 4196.0 776.1 4196.6 770.9 4197.2 771.1 4197.8 777.9 4198.4 792.0 4199.6 840.2 4205.1 1162.1 4207.4 1041.6 4208.0 1031.9 4208.6 1037.6 4209.8 1095.3 4211.6 1263.9 4212.2 1262.6 4212.8 1233.8 4215.7 1019.4 4216.9 960.8 4217.5 947.1 4218.1 944.0 4219.8 963.6 4220.4 962.0 4221.0 949.6 4222.8 872.4 4223.9 838.0 4224.5 838.0 4225.1 851.9 4225.7 879.8 4228.7 1132.9 4229.3 1147.5 4232.2 964.6 4235.2 848.9 4238.8 677.0 4240.0 644.0 4242.4 617.7 4243.0 605.8 4245.4 520.6 4246.0 505.3 4246.6 499.8 4247.2 505.5 4247.8 525.9 4250.2 678.4 4251.4 735.6 4252.0 749.8 4252.6 756.1 4253.7 762.2 4254.3 770.8 4255.5 813.1 4259.7 1128.7 4260.3 1154.9 4260.9 1167.5 4261.5 1169.0 4262.1 1167.0 4263.3 1122.2 4267.0 878.1 4268.8 793.3 4269.4 779.1 4270.0 772.7 4270.6 773.2 4272.4 793.7 4273.0 797.9 4273.6 797.3 4274.2 791.7 4276.6 750.3 4277.2 744.9 4277.9 744.7 4278.5 750.1 4280.3 801.1 4282.1 895.1 4284.5 1059.5 4285.1 1087.4 4285.7 1097.5 4286.3 1086.3 4289.3 965.8 4289.9 957.8 4290.5 957.5 4292.4 973.1 4293.0 969.7 4294.2 938.6 4296.6 851.1 4300.2 771.8 4301.4 755.3 4302.0 755.0 4302.6 761.7 4303.2 775.2 4306.2 896.6 4306.8 913.0 4307.4 920.3 4308.1 917.8 4308.7 906.7 4312.9 778.3 4314.1 760.5 4314.7 761.2 4315.3 771.6 4316.5 829.1 4318.9 1051.4 4319.5 1080.6 4320.1 1070.2 4321.3 1011.3 4326.5 538.3 4327.7 477.9 4328.3 467.7 4328.9 471.3 4330.1 493.5 4333.7 615.4 4336.7 688.3 4337.9 734.0 4339.7 850.3 4342.1 1074.5 4342.7 1117.0 4343.3 1126.7 4345.9 734.1 4346.5 682.0 4347.1 660.4 4347.8 668.5 4348.4 688.8 4349.0 722.4 4351.4 923.7 4352.0 945.9 4352.6 938.8 4354.4 827.8 4355.7 780.5 4356.3 777.0 4356.9 785.1 4358.7 829.0 4359.3 828.9 4359.9 813.3 4363.6 560.3 4364.8 515.0 4365.4 509.4" stroke="#ff7f0e"/>
<path d="M2570.5 816.3 2571.1 812.4 2572.4 795.0 2575.6 736.9 2577.5 676.5 2580.0 572.3 2581.2 535.4 2582.5 517.7 2583.1 515.1 2583.7 515.7 2584.3 522.3 2584.9 536.0 2586.1 588.1 2589.7 880.2 2590.9 947.5 2591.5 956.4 2592.1 948.3 2593.9 881.6 2594.5 867.1 2595.1 864.5 2595.7 876.3 2596.3 903.5 2598.1 1042.3 2598.7 1061.4 2599.3 1057.6 2599.9 1040.3 2601.7 963.8 2602.3 946.8 2602.9 938.3 2603.5 938.7 2604.2 946.8 2606.6 1007.3 2607.2 1010.3 2607.8 1009.9 2608.3 1003.1 2609.5 971.9 2610.7 922.2 2614.2 728.3 2615.4 689.2 2616.0 686.3 2616.6 691.1 2617.8 726.3 2621.9 935.7 2622.5 958.7 2623.1 969.9 2623.7 964.2 2624.3 940.9 2626.7 786.8 2627.9 748.3 2628.5 747.0 2629.1 756.3 2630.9 805.4 2631.5 805.7 2632.0 787.6 2635.0 554.4 2635.6 524.9 2636.2 510.3 2636.8 514.4 2637.4 531.2 2638.6 595.5 2645.0 1090.0 2645.6 1108.3 2647.4 1116.4 2648.6 1133.6 2651.0 1212.8 2653.4 832.9 2654.6 714.8 2655.2 686.2 2655.8 677.2 2656.4 687.6 2657.6 745.0 2660.5 1011.2 2661.7 1080.6 2662.3 1051.9 2664.6 737.6 2665.8 631.2 2666.4 597.1 2667.5 557.6 2668.7 540.8 2669.9 534.4 2670.4 534.7 2671.1 537.9 2671.7 545.8 2672.3 559.2 2673.6 602.2 2677.9 851.6 2678.5 879.3 2679.2 892.9 2679.8 889.4 2680.4 870.5 2682.9 766.2 2683.5 756.8 2684.1 755.8 2686.0 774.0 2686.6 775.8 2687.3 771.6 2687.9 760.4 2691.6 614.7 2692.9 587.4 2693.5 586.4 2694.1 604.3 2694.7 641.0 2697.7 954.3 2698.3 995.5 2698.9 1009.5 2699.5 996.1 2701.8 856.5 2702.4 836.6 2703.0 829.3 2703.6 835.3 2704.2 854.3 2707.2 1037.4 2707.8 1048.8 2708.4 1043.0 2709.0 1027.0 2710.2 964.4 2713.2 751.1 2713.8 729.0 2714.4 720.9 2715.0 727.8 2715.6 749.0 2718.0 911.4 2719.2 973.7 2722.7 1056.2 2723.3 1064.5 2723.9 1068.0 2724.5 1054.2 2725.7 984.9 2730.4 580.5 2732.1 496.1 2732.7 483.4 2733.3 480.2 2733.9 482.4 2734.5 498.3 2736.3 614.5 2741.2 1130.5 2741.8 1186.8 2742.4 1210.1 2748.2 826.6 2749.4 777.7 2749.9 762.8 2750.5 754.0 2751.1 750.0 2751.7 749.1 2752.3 749.3 2752.9 748.9 2754.6 743.3 2755.2 744.3 2755.8 750.2 2756.3 762.7 2758.1 848.2 2760.4 1037.3 2761.0 1074.8 2761.6 1092.2 2762.1 1065.3 2764.3 735.9 2764.9 690.8 2765.4 672.3 2766.0 684.1 2767.2 754.8 2770.0 1020.5 2771.2 1074.6 2773.5 1126.7 2774.1 1100.9 2777.7 720.2 2778.9 651.0 2779.5 634.8 2780.1 632.5 2780.7 643.2 2781.3 665.3 2782.4 743.9 2786.0 1180.6 2786.6 1222.8 2790.2 880.1 2791.4 817.4 2792.0 804.6 2792.6 804.8 2793.8 842.4 2796.3 1001.7 2797.5 1048.2 2798.1 1048.8 2798.7 1039.4 2802.4 853.8 2803.0 839.5 2803.7 833.6 2804.3 835.3 2805.5 859.2 2808.6 981.5 2811.7 1062.7 2813.6 1131.9 2814.2 1139.0 2814.8 1131.6 2816.6 1051.9 2817.3 1036.9 2817.9 1032.9 2818.5 1039.7 2819.1 1056.2 2820.9 1126.5 2821.5 1134.4 2822.1 1133.2 2826.2 808.1 2827.3 760.4 2829.7 707.8 2832.0 629.4 2833.2 605.9 2833.7 606.8 2834.3 626.4 2834.9 665.5 2837.8 1039.3 2838.4 1083.3 2839.0 1082.0 2839.6 1060.8 2842.1 921.6 2843.3 872.4 2844.5 842.5 2845.1 835.2 2845.7 834.3 2846.4 841.1 2847.0 856.9 2847.6 882.2 2850.6 1087.1 2851.2 1109.7 2851.9 1114.1 2852.5 1100.1 2853.1 1071.3 2855.5 893.6 2856.7 831.7 2857.3 818.0 2857.9 815.2 2859.7 835.6 2860.3 836.8 2861.0 830.5 2861.6 817.4 2864.0 753.5 2865.2 740.3 2867.0 731.6 2868.8 717.1 2869.4 718.9 2870.1 730.0 2870.7 753.2 2871.9 840.0 2873.7 1022.3 2874.3 1065.2 2874.9 1082.2 2875.5 1063.2 2877.8 694.8 2879.0 559.5 2880.2 482.8 2880.8 466.1 2881.4 462.8 2881.9 467.7 2882.5 477.8 2883.1 493.8 2884.9 584.9 2886.1 687.2 2889.7 1077.4 2890.3 1089.1 2890.9 1076.5 2892.7 982.2 2893.3 968.0 2893.9 970.6 2895.1 1025.4 2897.0 1149.9 2897.6 1153.6 2898.2 1145.8 2898.8 1125.8 2902.4 916.0 2903.7 874.6 2904.3 864.6 2904.9 860.6 2905.5 861.6 2906.1 865.7 2909.8 898.4 2911.0 915.1 2912.2 945.5 2914.6 1031.0 2915.2 1042.2 2916.4 974.5 2919.4 698.0 2920.0 665.9 2920.6 645.7 2921.2 637.4 2921.7 640.1 2922.3 667.2 2924.5 935.1 2925.1 993.3 2925.6 1020.7 2926.2 1018.2 2927.4 992.9 2931.0 867.5 2931.6 858.3 2932.3 857.2 2932.9 864.9 2934.1 907.2 2937.1 1099.2 2937.7 1127.2 2938.3 1139.8 2938.9 1132.2 2939.5 1094.2 2942.4 726.1 2943.6 639.9 2944.2 626.9 2944.8 627.1 2945.4 638.6 2946.6 696.7 2947.8 799.1 2950.8 1148.2 2951.3 1159.0 2951.9 1157.2 2953.7 1096.3 2954.8 1069.9 2955.4 1067.0 2956.0 1070.8 2958.3 1115.2 2958.9 1100.6 2961.4 918.3 2962.0 886.2 2962.6 870.7 2963.2 874.4 2963.8 897.5 2966.3 1085.2 2967.5 1000.3 2969.7 718.9 2970.9 646.9 2971.4 640.9 2972.0 644.0 2972.6 651.3 2974.3 697.1 2977.2 822.0 2980.7 931.0 2983.0 1038.0 2983.6 1050.7 2984.2 1024.8 2986.6 842.8 2987.1 826.8 2987.7 828.4 2988.9 878.4 2991.3 1070.5 2991.9 1103.1 2992.4 1112.1 2993.1 1109.5 2993.7 1100.3 2996.1 1026.3 2997.3 1005.8 2998.6 998.9 2999.2 987.9 2999.8 963.1 3001.0 866.2 3005.3 406.0 3006.5 329.5 3007.1 307.5 3007.8 297.3 3008.4 310.5 3009.6 406.1 3012.6 874.2 3013.7 994.2 3014.3 1008.6 3014.9 997.6 3015.5 971.9 3017.9 829.0 3022.7 454.9 3023.9 403.9 3024.5 396.4 3025.1 401.7 3025.7 415.7 3028.8 540.6 3031.2 585.3 3031.8 608.0 3033.0 690.4 3036.0 978.2 3036.6 996.9 3037.3 995.8 3038.5 972.0 3039.1 966.0 3039.7 969.5 3040.3 983.5 3043.3 1147.5 3043.9 1162.8 3044.5 1153.3 3045.1 1117.1 3048.8 779.1 3050.0 719.6 3050.6 706.6 3051.2 704.6 3051.8 713.1 3054.8 837.0 3055.4 847.9 3056.0 843.5 3056.6 824.4 3059.6 680.4 3060.2 667.3 3060.8 661.8 3061.4 666.9 3062.0 682.7 3065.0 814.9 3065.6 824.5 3066.2 821.9 3067.4 785.3 3071.6 597.3 3072.8 564.2 3073.4 557.1 3074.0 558.2 3075.2 581.5 3078.3 682.9 3080.7 747.9 3081.9 771.3 3082.5 777.5 3083.1 778.0 3083.7 771.4 3084.9 735.3 3089.1 521.5 3090.4 485.2 3091.0 475.3 3091.6 471.8 3092.2 476.2 3092.8 486.6 3095.7 566.6 3096.3 571.8 3096.9 571.4 3098.7 554.4 3099.3 552.2 3099.9 565.5 3101.1 628.9 3104.1 862.0 3105.9 971.1 3107.2 1005.7 3107.8 1010.1 3108.4 1008.8 3109.6 1003.5 3110.2 1006.0 3110.8 1014.1 3116.3 1174.1 3116.9 1177.4 3117.5 1166.3 3118.6 1096.1 3119.8 1055.9 3120.4 1058.0 3120.9 1075.5 3122.1 1141.3 3122.7 1158.2 3123.3 1148.7 3123.9 1128.2 3126.3 1030.3 3126.9 1020.2 3127.5 1019.1 3128.1 1027.1 3128.7 1043.4 3132.3 1202.4 3132.8 1180.7 3134.6 955.7 3136.3 779.1 3137.5 698.0 3138.6 646.8 3139.2 632.8 3139.8 626.9 3140.3 629.5 3140.9 642.6 3141.5 669.9 3142.6 773.4 3144.4 992.3 3144.9 1016.9 3145.5 1003.5 3147.9 897.2 3148.5 888.4 3149.1 887.1 3150.3 892.1 3150.9 890.0 3152.1 859.6 3153.3 787.8 3156.8 496.4 3158.0 452.6 3158.6 448.8 3159.2 461.1 3159.8 490.8 3162.7 801.3 3163.3 842.3 3163.9 852.7 3164.5 832.4 3165.1 790.4 3168.0 550.4 3169.2 502.7 3169.8 494.2 3170.4 508.0 3170.9 542.0 3172.1 669.5 3174.3 1050.3 3174.9 1104.5 3175.5 1101.8 3176.7 1067.5 3180.3 846.1 3182.1 776.2 3182.7 768.0 3183.3 766.8 3183.9 771.0 3186.9 810.9 3187.5 812.6 3188.1 808.2 3188.7 794.9 3189.9 734.9 3191.7 595.2 3192.9 534.5 3193.5 529.1 3194.7 581.2 3195.8 697.8 3198.1 1011.9 3199.3 1098.0 3199.9 1098.7 3200.5 1091.5 3201.1 1073.6 3204.0 962.1 3205.2 942.7 3205.8 942.8 3206.3 950.6 3206.9 966.8 3209.3 1083.5 3209.9 1097.5 3210.5 1097.4 3211.1 1076.0 3211.7 1032.7 3213.5 851.2 3214.7 766.7 3215.3 750.6 3215.9 753.6 3216.5 773.8 3218.3 877.2 3218.9 897.1 3219.6 898.9 3220.2 884.6 3222.6 787.1 3225.6 705.4 3228.6 570.9 3229.2 554.3 3229.8 546.6 3230.4 548.9 3231.0 556.0 3232.8 604.6 3234.0 661.1 3236.4 810.2 3237.0 836.3 3237.6 847.6 3238.2 841.5 3238.8 820.0 3240.6 720.9 3241.8 680.1 3242.4 675.8 3243.0 680.5 3243.6 694.4 3244.8 749.0 3248.3 999.6 3248.8 1023.6 3249.4 1035.3 3252.4 640.5 3253.6 566.1 3254.2 577.9 3254.8 611.4 3256.1 735.2 3258.6 1088.4 3259.2 1154.0 3259.8 1172.8 3262.1 971.3 3262.6 937.1 3263.8 899.0 3264.3 891.2 3266.0 880.8 3266.6 874.5 3268.8 828.3 3269.4 820.1 3270.0 817.9 3270.5 823.3 3271.1 836.9 3273.9 949.6 3274.5 955.2 3275.1 951.7 3278.4 893.2 3281.3 792.8 3281.8 781.0 3282.4 779.8 3283.5 813.6 3286.9 1051.3 3288.0 1091.5 3288.6 1094.9 3289.8 1029.3 3292.1 820.8 3293.3 765.6 3293.9 759.5 3294.5 769.8 3295.7 840.7 3298.6 1184.4 3299.2 1176.4 3299.8 1143.9 3302.8 953.9 3307.0 549.0 3307.6 515.0 3308.2 494.0 3308.8 485.8 3309.4 501.1 3310.6 584.9 3314.2 978.6 3315.4 1033.7 3316.6 1055.6 3317.2 1061.1 3317.8 1061.0 3318.5 1045.0 3321.0 891.4 3321.7 867.9 3322.3 858.1 3323.0 862.1 3323.6 877.8 3325.6 951.9 3326.2 967.5 3326.8 972.0 3327.5 965.5 3329.4 920.3 3330.1 909.5 3330.7 904.2 3331.4 904.2 3332.0 908.0 3334.6 928.0 3335.9 932.1 3336.5 932.7 3337.2 932.0 3337.8 929.7 3338.5 925.6 3341.0 900.8 3342.3 879.1 3343.0 862.0 3348.1 658.1 3349.4 617.2 3350.7 592.1 3351.4 592.0 3351.9 604.7 3352.5 631.5 3356.6 971.9 3357.7 1027.4 3358.3 1037.5 3358.9 1036.5 3359.5 1013.7 3360.1 962.2 3363.6 482.4 3364.8 403.8 3365.3 391.5 3365.9 393.1 3367.1 456.8 3370.1 775.1 3373.1 975.3 3374.8 1123.1 3375.4 1150.6 3376.0 1139.4 3378.4 1009.4 3379.0 994.4 3379.6 993.2 3380.2 1007.5 3380.7 1038.1 3382.5 1195.2 3383.1 1200.5 3383.7 1190.3 3384.3 1163.6 3387.9 976.4 3389.1 892.3 3392.2 619.8 3393.4 554.6 3394.0 543.1 3394.6 551.4 3395.7 598.4 3398.7 793.8 3401.7 935.8 3404.0 1113.7 3404.6 1116.7 3405.2 1094.1 3409.4 886.1 3410.6 856.8 3411.2 853.4 3411.8 857.2 3412.4 866.8 3414.8 934.5 3419.6 1134.4 3420.2 1119.6 3423.3 997.4 3426.3 860.5 3427.0 843.8 3427.6 836.4 3428.2 839.1 3428.8 851.7 3431.2 947.0 3431.9 961.4 3432.5 965.3 3433.1 959.4 3433.7 945.9 3435.5 893.0 3436.8 869.1 3437.4 864.4 3438.0 865.4 3438.6 872.4 3439.8 903.1 3443.5 1058.2 3444.7 1093.7 3445.3 1096.0 3445.9 1093.3 3446.5 1083.3 3449.5 982.6 3450.1 973.4 3450.7 973.6 3451.9 1004.9 3454.3 1135.3 3454.9 1147.5 3457.4 909.4 3458.6 830.6 3459.2 806.5 3460.4 778.6 3461.1 771.1 3461.7 766.5 3462.3 764.5 3462.9 765.4 3463.5 769.6 3465.9 800.5 3466.6 802.7 3467.2 800.2 3468.4 791.5 3469.0 793.7 3469.6 806.9 3470.8 878.5 3472.7 1078.3 3473.3 1117.9 3473.9 1114.8 3474.5 1095.3 3478.1 878.6 3479.3 845.4 3479.9 844.3 3480.5 856.2 3481.1 882.6 3481.7 923.8 3484.0 1145.9 3484.7 1119.0 3487.7 843.5 3488.9 772.7 3490.1 729.5 3492.6 669.0 3493.8 643.9 3494.4 639.5 3495.0 654.1 3496.1 753.2 3499.0 1204.3 3501.2 696.9 3502.3 563.4 3502.8 537.5 3503.4 543.2 3504.0 564.1 3506.4 710.2 3507.6 757.3 3508.2 768.5 3510.0 783.0 3511.2 798.8 3514.8 881.5 3515.4 890.4 3516.0 894.5 3516.7 892.6 3517.9 870.4 3520.9 770.9 3522.1 741.0 3523.3 721.4 3525.7 701.8 3526.9 673.7 3528.1 609.8 3531.1 389.5 3532.3 342.0 3532.9 332.1 3534.1 329.1 3534.7 341.5 3535.9 405.8 3540.0 720.1 3541.2 839.2 3543.0 1094.6 3543.6 1136.0 3546.5 556.3 3547.0 484.8 3547.6 444.4 3548.2 433.4 3548.8 434.7 3549.4 453.9 3550.6 548.8 3554.1 1106.1 3554.7 1107.5 3555.3 1098.7 3556.0 1072.1 3560.3 745.1 3561.5 696.8 3562.2 689.7 3562.7 691.0 3563.3 707.0 3563.9 738.7 3567.4 1106.4 3568.0 1072.4 3570.8 582.1 3571.9 504.7 3572.5 507.2 3573.1 520.3 3574.3 573.0 3578.5 857.5 3580.3 937.2 3580.9 948.3 3581.5 949.1 3582.1 939.3 3585.6 780.4 3586.8 752.1 3587.4 748.5 3588.0 751.8 3589.2 777.1 3592.8 920.4 3595.2 984.9 3597.5 1111.8 3598.1 1113.3 3598.7 1113.6 3599.3 1104.7 3604.2 958.1 3605.5 928.0 3606.1 919.6 3606.7 918.4 3607.3 926.0 3607.9 942.6 3610.3 1052.3 3611.0 1067.2 3611.6 1068.0 3612.2 1064.7 3613.3 1046.1 3616.2 969.2 3619.7 910.3 3623.2 824.6 3623.7 816.0 3624.3 812.4 3624.9 814.5 3625.5 823.2 3626.1 838.6 3628.9 969.6 3629.5 981.3 3630.1 978.1 3632.4 876.0 3633.6 839.6 3634.2 832.3 3634.7 830.2 3635.3 830.4 3635.9 829.7 3636.5 825.4 3638.8 778.1 3639.4 770.3 3640.0 769.3 3640.5 776.5 3641.7 816.2 3646.9 1121.1 3647.5 1145.4 3648.1 1152.5 3648.7 1149.2 3651.1 855.7 3652.3 765.5 3652.9 756.6 3653.5 774.7 3654.1 818.8 3656.5 1096.8 3657.1 1090.6 3657.7 1070.3 3658.2 1033.6 3661.1 751.0 3662.3 672.1 3662.8 650.3 3663.4 640.9 3664.0 643.1 3665.7 658.9 3666.3 660.6 3666.9 658.5 3668.1 642.8 3669.8 610.4 3670.4 605.9 3671.0 608.1 3672.2 646.8 3676.4 944.3 3677.6 1004.1 3678.2 1021.1 3678.8 1027.6 3679.4 1007.8 3681.7 822.7 3682.8 767.4 3683.4 758.2 3684.0 761.2 3684.6 774.5 3687.4 897.1 3688.6 919.9 3689.2 919.7 3690.3 897.4 3693.2 779.3 3694.4 754.3 3694.9 756.9 3695.5 771.2 3697.8 905.4 3699.0 953.5 3699.5 960.3 3700.1 957.9 3703.0 902.3 3703.6 896.3 3704.1 898.8 3705.3 940.0 3707.0 1053.0 3707.6 1054.5 3708.2 1049.9 3711.9 706.8 3712.5 677.5 3713.1 662.8 3713.7 661.8 3714.3 668.7 3714.9 682.9 3716.7 750.9 3717.9 784.0 3718.5 788.0 3719.1 784.4 3720.3 770.3 3720.9 769.9 3721.5 778.9 3722.1 799.4 3723.4 872.6 3726.4 1126.9 3727.0 1159.9 3727.6 1169.8 3729.3 1062.8 3729.9 1043.1 3730.5 1040.3 3731.0 1053.5 3732.8 1141.1 3733.3 1157.5 3733.9 1152.5 3737.5 956.7 3738.7 921.0 3739.3 917.1 3739.9 922.9 3742.2 983.8 3742.8 983.2 3743.4 968.4 3744.6 902.4 3747.5 673.1 3748.7 625.9 3749.3 625.5 3749.9 625.9 3751.1 655.1 3755.2 877.0 3757.0 932.0 3757.6 940.0 3758.2 943.4 3758.8 942.9 3759.4 939.1 3760.6 924.0 3763.5 865.9 3764.1 862.2 3764.7 866.8 3765.9 907.6 3768.9 1121.0 3769.4 1124.4 3770.1 1119.6 3770.7 1091.8 3774.4 810.9 3775.6 762.7 3776.2 758.9 3776.8 770.2 3778.1 836.3 3780.5 1041.8 3781.1 1072.3 3781.7 1085.2 3782.4 1082.8 3783.0 1065.2 3784.2 986.5 3787.3 715.1 3788.5 656.6 3789.1 646.4 3789.7 647.3 3791.0 679.2 3793.4 808.9 3794.6 852.3 3795.2 860.2 3795.8 860.8 3797.0 854.3 3797.6 854.5 3798.2 860.2 3799.5 889.8 3801.9 969.9 3802.5 977.8 3803.1 977.5 3803.7 969.8 3807.4 871.7 3808.6 852.6 3809.2 849.3 3809.8 850.6 3811.0 865.0 3812.2 892.0 3815.9 1007.0 3816.5 1019.1 3817.1 1023.8 3817.7 1023.0 3818.3 1007.4 3819.4 944.7 3823.0 687.2 3824.2 636.0 3824.7 628.3 3825.3 629.4 3826.5 659.6 3829.4 798.2 3830.0 812.1 3830.6 819.2 3831.8 827.3 3833.0 855.9 3834.1 927.3 3836.5 1164.3 3837.1 1190.9 3840.0 994.2 3845.3 750.8 3846.5 727.7 3847.1 727.8 3847.6 736.6 3848.8 777.9 3851.8 914.2 3852.4 926.7 3852.9 931.5 3853.5 929.0 3854.7 904.0 3855.9 854.6 3860.0 592.7 3861.2 548.7 3861.8 539.6 3862.4 540.5 3863.0 547.3 3865.5 599.8 3868.0 637.3 3869.3 663.4 3871.1 750.1 3873.6 930.2 3874.3 956.4 3874.9 961.2 3875.5 944.8 3877.4 850.1 3878.0 828.5 3878.6 818.3 3879.3 819.9 3879.9 832.3 3883.0 947.1 3883.6 956.2 3884.3 954.3 3885.5 917.8 3889.9 688.1 3891.8 630.1 3893.6 599.3 3895.5 584.7 3896.1 582.5 3896.8 581.5 3897.4 581.5 3898.0 586.3 3900.3 638.4 3900.9 645.1 3901.5 646.5 3902.1 643.2 3903.9 624.2 3904.5 620.2 3905.1 618.5 3905.7 628.8 3906.3 651.6 3907.5 736.3 3910.6 1059.7 3911.2 1066.0 3911.8 1054.8 3914.7 874.6 3915.9 822.1 3916.5 809.7 3917.1 808.1 3917.6 817.2 3920.0 922.9 3921.2 959.5 3921.8 960.0 3922.3 949.7 3924.7 884.3 3925.3 878.2 3925.9 879.2 3927.0 903.7 3928.2 958.8 3931.7 1245.3 3932.3 1267.7 3935.3 902.1 3935.9 853.1 3937.0 796.3 3937.6 787.7 3938.2 791.1 3940.6 860.4 3941.2 862.4 3941.8 848.1 3943.5 761.7 3944.1 747.3 3944.7 751.1 3945.9 819.4 3948.2 1066.1 3948.8 1075.6 3949.4 1074.7 3950.0 1069.3 3950.6 1057.1 3951.2 1037.8 3958.1 742.8 3959.9 701.6 3961.1 685.6 3961.6 682.8 3962.2 682.6 3963.4 731.5 3967.0 1030.9 3968.2 1095.5 3968.8 1106.4 3969.4 1096.0 3971.9 936.5 3973.1 891.6 3973.7 885.3 3974.3 886.8 3975.5 899.0 3976.1 902.1 3976.7 899.6 3977.3 890.5 3978.6 855.9 3981.0 766.1 3982.2 739.1 3982.8 735.8 3983.4 740.2 3984.7 771.0 3987.1 852.8 3987.7 860.1 3988.3 859.8 3990.7 826.8 3992.0 817.6 3992.6 816.5 3993.2 817.1 3995.6 825.5 3996.2 826.5 3996.8 825.6 3997.4 821.9 3998.1 814.3 3999.3 786.5 4002.3 679.1 4002.9 667.0 4003.5 663.9 4004.1 672.3 4005.3 734.6 4008.3 1007.0 4009.4 1082.1 4010.6 1116.2 4011.8 1127.8 4012.4 1130.8 4013.0 1132.1 4013.6 1130.5 4014.1 1124.6 4015.3 1087.3 4016.4 1005.4 4019.3 731.3 4020.4 670.1 4021.0 660.4 4021.6 661.4 4022.2 669.9 4023.4 716.1 4024.7 802.3 4027.1 1037.7 4027.7 1082.3 4028.4 1101.4 4029.5 1073.5 4032.5 964.9 4036.7 767.9 4037.9 726.7 4038.5 717.1 4039.1 716.6 4039.7 725.6 4042.7 842.6 4043.3 847.6 4043.9 836.5 4048.0 589.9 4049.8 529.1 4050.4 520.3 4051.0 518.6 4051.6 524.4 4052.2 538.4 4054.6 618.7 4057.5 674.6 4061.0 822.7 4061.6 836.2 4062.2 843.6 4063.4 851.8 4064.6 871.1 4067.5 987.8 4068.1 1005.8 4068.7 1014.2 4069.3 1010.3 4069.9 994.2 4071.7 911.6 4072.8 877.0 4073.4 875.9 4075.2 910.6 4075.8 908.4 4076.4 884.8 4079.4 586.6 4080.6 506.1 4081.2 489.0 4081.8 488.6 4082.3 493.3 4082.9 507.6 4084.1 564.0 4087.1 818.1 4088.3 890.3 4088.9 899.2 4089.5 889.9 4091.8 786.2 4092.4 769.5 4093.0 762.5 4093.6 765.9 4094.8 801.3 4097.2 913.1 4099.5 995.3 4101.9 1106.6 4102.5 1117.9 4103.1 1111.9 4105.5 1003.6 4106.0 998.6 4106.6 1006.9 4108.4 1065.8 4109.0 1069.9 4109.6 1057.8 4112.7 861.5 4113.9 814.7 4114.5 805.1 4115.1 804.7 4116.3 826.2 4119.4 925.3 4120.0 937.6 4120.6 943.2 4121.2 941.7 4122.4 918.6 4126.1 796.2 4127.9 755.8 4129.1 744.1 4129.7 743.1 4130.3 745.3 4132.1 759.8 4132.8 758.5 4133.4 748.2 4134.6 695.2 4136.4 587.7 4137.0 568.9 4137.6 567.5 4138.2 568.4 4138.8 584.3 4139.4 617.7 4139.9 670.0 4142.8 1080.6 4145.7 581.7 4146.3 513.8 4147.4 445.3 4148.0 449.2 4151.0 484.9 4152.2 507.8 4152.8 527.5 4153.9 589.3 4155.7 715.2 4156.3 747.6 4156.9 763.1 4157.5 755.5 4158.7 670.1 4161.7 327.2 4162.9 262.4 4163.5 260.2 4164.0 268.1 4165.2 308.9 4169.7 583.5 4171.4 642.7 4174.8 732.2 4178.2 916.8 4178.8 935.4 4179.3 938.8 4179.9 925.3 4180.5 896.9 4183.3 705.8 4183.9 687.7 4184.4 682.8 4185.0 684.3 4185.6 693.2 4186.2 711.6 4186.8 740.1 4189.8 988.3 4191.0 1055.1 4191.6 1057.6 4192.2 1050.4 4194.7 978.8 4195.3 974.8 4195.9 978.5 4197.1 995.9 4197.7 1000.7 4198.3 999.0 4200.2 973.5 4200.8 970.7 4201.4 975.2 4202.0 987.3 4203.8 1049.1 4204.4 1065.6 4205.1 1073.7 4205.7 1064.6 4206.3 1032.4 4208.7 828.6 4209.4 798.4 4210.0 783.1 4210.6 781.6 4211.2 791.0 4213.0 836.7 4214.9 860.7 4215.5 872.8 4218.0 978.3 4218.6 992.5 4219.2 983.2 4219.8 949.1 4222.3 751.0 4222.9 727.1 4223.5 721.7 4224.1 734.7 4224.7 764.0 4226.6 898.9 4227.8 956.0 4228.4 959.9 4230.2 928.6 4230.9 924.8 4231.5 930.1 4232.7 968.8 4235.2 1105.0 4235.8 1123.7 4236.4 1119.2 4237.0 1099.4 4239.4 978.0 4240.0 963.4 4240.6 958.6 4241.8 965.1 4242.4 964.1 4243.0 952.9 4244.8 875.9 4245.4 856.2 4246.0 848.6 4246.6 855.1 4247.2 875.5 4249.6 1013.5 4250.2 1034.3 4250.8 1044.4 4252.0 1053.3 4252.6 1064.2 4255.0 1164.0 4255.6 1156.1 4256.2 1130.2 4259.2 902.3 4260.4 849.8 4261.1 839.1 4261.7 838.8 4262.3 848.8 4262.9 869.5 4264.1 946.3 4265.9 1116.6 4266.5 1123.7 4267.1 1074.9 4269.4 671.4 4270.6 557.8 4271.1 534.0 4271.7 530.5 4272.3 532.0 4274.2 548.5 4274.8 550.2 4275.4 546.4 4276.0 535.4 4277.3 488.4 4280.3 291.3 4281.6 247.5 4282.2 244.9 4282.8 257.3 4283.4 281.6 4284.7 363.5 4290.3 968.5 4291.5 1069.1 4292.8 1124.2 4293.4 1133.3 4294.0 1096.0 4296.5 801.5 4297.7 697.3 4298.3 669.1 4299.0 658.3 4299.5 659.8 4300.1 671.6 4301.2 721.9 4304.1 904.4 4305.2 939.2 4305.8 937.4 4306.4 921.3 4307.5 848.5 4310.4 586.5 4311.5 541.7 4312.1 545.5 4313.4 601.0 4317.1 999.2 4317.7 1040.4 4318.4 1054.5 4319.0 1047.6 4319.6 1025.9 4322.5 841.0 4324.3 771.0 4324.9 765.0 4325.5 769.1 4326.1 783.3 4328.5 903.0 4329.1 928.0 4329.6 940.3 4330.2 937.8 4330.8 922.3 4333.2 836.1 4333.8 828.4 4334.4 829.3 4335.6 854.5 4336.8 904.6 4341.5 1168.1 4343.3 1231.8 4343.9 1244.8 4344.5 1249.7 4345.1 1230.3 4347.0 954.8 4348.8 775.5 4350.1 726.1 4350.7 716.2 4351.9 704.7 4353.2 678.0 4355.1 604.8 4356.3 571.0 4356.9 567.5 4357.4 619.4 4358.7 1046.8 4359.3 1018.0 4359.9 938.0 4363.0 445.9 4364.2 332.7 4364.8 303.9 4365.4 293.6" stroke="#2ca02c"/>
</g>
<rect x="2480.5" y="106.5" width="1975" height="1219" fill="none" stroke="#000" stroke-width="3.3333" stroke-linejoin="miter"/>
<path d="M2570.5 1325.5V1340.08M2869.5 1325.5V1340.08M3168.5 1325.5V1340.08M3468.5 1325.5V1340.08M3767.5 1325.5V1340.08M4066.5 1325.5V1340.08M4365.5 1325.5V1340.08M2465.92 1289.5H2480.5M2465.92 1058.5H2480.5M2465.92 827.5H2480.5M2465.92 597.5H2480.5M2465.92 366.5H2480.5M2465.92 135.5H2480.5" stroke="#000" stroke-width="3.3333" fill="none"/>
<rect x="2501.4" y="127.1" width="214.2" height="194.5" rx="8.33" ry="8.33" fill="#fff" fill-opacity="0.8" stroke="#ccc" stroke-opacity="0.8" stroke-width="4.1667"/>
<path d="M2518 159.9H2601.33" stroke="#1f77b4" stroke-width="6.25" stroke-linecap="square"/>
<text font-size="100" transform="matrix(0.45968 0 0 0.43108 2635.16 175.47)">cf2</text>
<path d="M2518 220.5H2601.33" stroke="#ff7f0e" stroke-width="6.25" stroke-linecap="square"/>
<text font-size="100" transform="matrix(0.46400 0 0 0.43568 2635.14 236.46)">cf3</text>
<path d="M2518 281.6H2601.33" stroke="#2ca02c" stroke-width="6.25" stroke-linecap="square"/>
<text font-size="100" transform="matrix(0.46457 0 0 0.43270 2635.14 297.13)">cf4</text>
<text font-size="100" transform="matrix(0.46502 0 0 0.43662 2334.14 1304.12)">0.000</text>
<text font-size="100" transform="matrix(0.46058 0 0 0.43662 2334.16 1074.12)">0.002</text>
<text font-size="100" transform="matrix(0.46311 0 0 0.43662 2334.15 843.12)">0.004</text>
<text font-size="100" transform="matrix(0.46694 0 0 0.43662 2334.13 612.12)">0.006</text>
<text font-size="100" transform="matrix(0.46694 0 0 0.43662 2334.13 381.12)">0.008</text>
<text font-size="100" transform="matrix(0.46502 0 0 0.43662 2334.14 150.12)">0.010</text>
<text font-size="100" transform="matrix(0.43750 0 0 0.44620 2559.25 1385.45)">0</text>
<text font-size="100" transform="matrix(0.41667 0 0 0.42686 2858.33 1386.47)">5</text>
<text font-size="100" transform="matrix(0.45455 0 0 0.44620 3143.36 1385.45)">10</text>
<text font-size="100" transform="matrix(0.44444 0 0 0.42686 3442.44 1386.47)">15</text>
<text font-size="100" transform="matrix(0.46078 0 0 0.44620 3741.70 1385.45)">20</text>
<text font-size="100" transform="matrix(0.45098 0 0 0.44620 4040.75 1385.45)">25</text>
<text font-size="100" transform="matrix(0.44660 0 0 0.44620 4340.21 1385.45)">30</text>
<text font-size="100" transform="matrix(0.54646 0 0 0.51064 3170.63 80.28)">Follower Tracking Errors</text>
<text font-size="100" transform="matrix(0.46028 0 0 0.39021 3383.08 1440.71)">Time (s)</text>
<text font-size="100" transform="matrix(0 -0.46108 0.43617 0 2304.84 903.92)">Tracking Error (m)</text>
</svg></body></html>
